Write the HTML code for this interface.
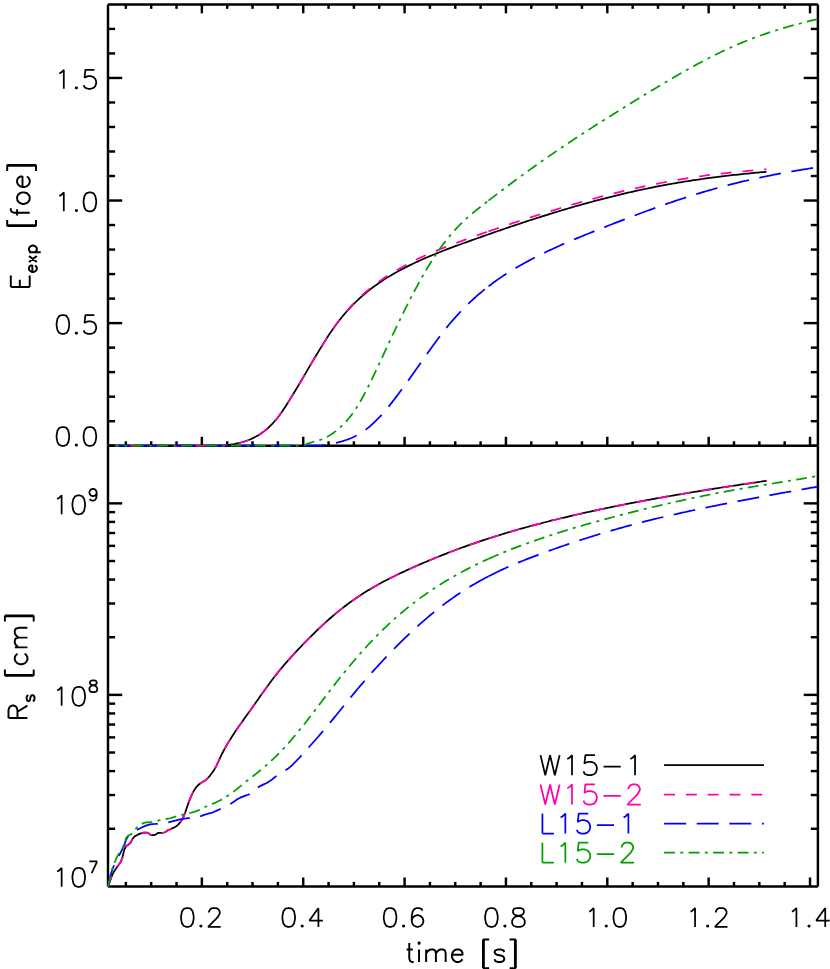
<!DOCTYPE html>
<html><head><meta charset="utf-8"><title>E_exp and R_s vs time</title>
<style>html,body{margin:0;padding:0;background:#fff;font-family:"Liberation Sans",sans-serif}svg{display:block}</style></head>
<body>
<svg width="830" height="969" viewBox="0 0 830 969">
<rect width="830" height="969" fill="#fff"/>
<defs><clipPath id="c1"><rect x="106.80" y="4.40" width="712.30" height="442.50"/></clipPath><clipPath id="c2"><rect x="106.80" y="445.70" width="712.30" height="441.90"/></clipPath></defs>
<line x1="108.00" y1="4.40" x2="817.90" y2="4.40" stroke="#000" stroke-width="2.45" />
<line x1="108.00" y1="445.70" x2="817.90" y2="445.70" stroke="#000" stroke-width="2.45" />
<line x1="108.00" y1="886.40" x2="817.90" y2="886.40" stroke="#000" stroke-width="2.45" />
<line x1="108.00" y1="4.40" x2="108.00" y2="445.70" stroke="#000" stroke-width="2.45" />
<line x1="817.90" y1="4.40" x2="817.90" y2="445.70" stroke="#000" stroke-width="2.45" />
<line x1="125.84" y1="4.40" x2="125.84" y2="8.85" stroke="#000" stroke-width="2.45" />
<line x1="125.84" y1="445.70" x2="125.84" y2="441.25" stroke="#000" stroke-width="2.45" />
<line x1="125.84" y1="886.40" x2="125.84" y2="881.95" stroke="#000" stroke-width="2.45" />
<line x1="151.18" y1="4.40" x2="151.18" y2="8.85" stroke="#000" stroke-width="2.45" />
<line x1="151.18" y1="445.70" x2="151.18" y2="441.25" stroke="#000" stroke-width="2.45" />
<line x1="151.18" y1="886.40" x2="151.18" y2="881.95" stroke="#000" stroke-width="2.45" />
<line x1="176.52" y1="4.40" x2="176.52" y2="8.85" stroke="#000" stroke-width="2.45" />
<line x1="176.52" y1="445.70" x2="176.52" y2="441.25" stroke="#000" stroke-width="2.45" />
<line x1="176.52" y1="886.40" x2="176.52" y2="881.95" stroke="#000" stroke-width="2.45" />
<line x1="201.86" y1="4.40" x2="201.86" y2="13.30" stroke="#000" stroke-width="2.45" />
<line x1="201.86" y1="445.70" x2="201.86" y2="436.80" stroke="#000" stroke-width="2.45" />
<line x1="201.86" y1="886.40" x2="201.86" y2="877.50" stroke="#000" stroke-width="2.45" />
<line x1="227.20" y1="4.40" x2="227.20" y2="8.85" stroke="#000" stroke-width="2.45" />
<line x1="227.20" y1="445.70" x2="227.20" y2="441.25" stroke="#000" stroke-width="2.45" />
<line x1="227.20" y1="886.40" x2="227.20" y2="881.95" stroke="#000" stroke-width="2.45" />
<line x1="252.54" y1="4.40" x2="252.54" y2="8.85" stroke="#000" stroke-width="2.45" />
<line x1="252.54" y1="445.70" x2="252.54" y2="441.25" stroke="#000" stroke-width="2.45" />
<line x1="252.54" y1="886.40" x2="252.54" y2="881.95" stroke="#000" stroke-width="2.45" />
<line x1="277.88" y1="4.40" x2="277.88" y2="8.85" stroke="#000" stroke-width="2.45" />
<line x1="277.88" y1="445.70" x2="277.88" y2="441.25" stroke="#000" stroke-width="2.45" />
<line x1="277.88" y1="886.40" x2="277.88" y2="881.95" stroke="#000" stroke-width="2.45" />
<line x1="303.22" y1="4.40" x2="303.22" y2="13.30" stroke="#000" stroke-width="2.45" />
<line x1="303.22" y1="445.70" x2="303.22" y2="436.80" stroke="#000" stroke-width="2.45" />
<line x1="303.22" y1="886.40" x2="303.22" y2="877.50" stroke="#000" stroke-width="2.45" />
<line x1="328.56" y1="4.40" x2="328.56" y2="8.85" stroke="#000" stroke-width="2.45" />
<line x1="328.56" y1="445.70" x2="328.56" y2="441.25" stroke="#000" stroke-width="2.45" />
<line x1="328.56" y1="886.40" x2="328.56" y2="881.95" stroke="#000" stroke-width="2.45" />
<line x1="353.90" y1="4.40" x2="353.90" y2="8.85" stroke="#000" stroke-width="2.45" />
<line x1="353.90" y1="445.70" x2="353.90" y2="441.25" stroke="#000" stroke-width="2.45" />
<line x1="353.90" y1="886.40" x2="353.90" y2="881.95" stroke="#000" stroke-width="2.45" />
<line x1="379.24" y1="4.40" x2="379.24" y2="8.85" stroke="#000" stroke-width="2.45" />
<line x1="379.24" y1="445.70" x2="379.24" y2="441.25" stroke="#000" stroke-width="2.45" />
<line x1="379.24" y1="886.40" x2="379.24" y2="881.95" stroke="#000" stroke-width="2.45" />
<line x1="404.58" y1="4.40" x2="404.58" y2="13.30" stroke="#000" stroke-width="2.45" />
<line x1="404.58" y1="445.70" x2="404.58" y2="436.80" stroke="#000" stroke-width="2.45" />
<line x1="404.58" y1="886.40" x2="404.58" y2="877.50" stroke="#000" stroke-width="2.45" />
<line x1="429.92" y1="4.40" x2="429.92" y2="8.85" stroke="#000" stroke-width="2.45" />
<line x1="429.92" y1="445.70" x2="429.92" y2="441.25" stroke="#000" stroke-width="2.45" />
<line x1="429.92" y1="886.40" x2="429.92" y2="881.95" stroke="#000" stroke-width="2.45" />
<line x1="455.26" y1="4.40" x2="455.26" y2="8.85" stroke="#000" stroke-width="2.45" />
<line x1="455.26" y1="445.70" x2="455.26" y2="441.25" stroke="#000" stroke-width="2.45" />
<line x1="455.26" y1="886.40" x2="455.26" y2="881.95" stroke="#000" stroke-width="2.45" />
<line x1="480.60" y1="4.40" x2="480.60" y2="8.85" stroke="#000" stroke-width="2.45" />
<line x1="480.60" y1="445.70" x2="480.60" y2="441.25" stroke="#000" stroke-width="2.45" />
<line x1="480.60" y1="886.40" x2="480.60" y2="881.95" stroke="#000" stroke-width="2.45" />
<line x1="505.94" y1="4.40" x2="505.94" y2="13.30" stroke="#000" stroke-width="2.45" />
<line x1="505.94" y1="445.70" x2="505.94" y2="436.80" stroke="#000" stroke-width="2.45" />
<line x1="505.94" y1="886.40" x2="505.94" y2="877.50" stroke="#000" stroke-width="2.45" />
<line x1="531.28" y1="4.40" x2="531.28" y2="8.85" stroke="#000" stroke-width="2.45" />
<line x1="531.28" y1="445.70" x2="531.28" y2="441.25" stroke="#000" stroke-width="2.45" />
<line x1="531.28" y1="886.40" x2="531.28" y2="881.95" stroke="#000" stroke-width="2.45" />
<line x1="556.62" y1="4.40" x2="556.62" y2="8.85" stroke="#000" stroke-width="2.45" />
<line x1="556.62" y1="445.70" x2="556.62" y2="441.25" stroke="#000" stroke-width="2.45" />
<line x1="556.62" y1="886.40" x2="556.62" y2="881.95" stroke="#000" stroke-width="2.45" />
<line x1="581.96" y1="4.40" x2="581.96" y2="8.85" stroke="#000" stroke-width="2.45" />
<line x1="581.96" y1="445.70" x2="581.96" y2="441.25" stroke="#000" stroke-width="2.45" />
<line x1="581.96" y1="886.40" x2="581.96" y2="881.95" stroke="#000" stroke-width="2.45" />
<line x1="607.30" y1="4.40" x2="607.30" y2="13.30" stroke="#000" stroke-width="2.45" />
<line x1="607.30" y1="445.70" x2="607.30" y2="436.80" stroke="#000" stroke-width="2.45" />
<line x1="607.30" y1="886.40" x2="607.30" y2="877.50" stroke="#000" stroke-width="2.45" />
<line x1="632.64" y1="4.40" x2="632.64" y2="8.85" stroke="#000" stroke-width="2.45" />
<line x1="632.64" y1="445.70" x2="632.64" y2="441.25" stroke="#000" stroke-width="2.45" />
<line x1="632.64" y1="886.40" x2="632.64" y2="881.95" stroke="#000" stroke-width="2.45" />
<line x1="657.98" y1="4.40" x2="657.98" y2="8.85" stroke="#000" stroke-width="2.45" />
<line x1="657.98" y1="445.70" x2="657.98" y2="441.25" stroke="#000" stroke-width="2.45" />
<line x1="657.98" y1="886.40" x2="657.98" y2="881.95" stroke="#000" stroke-width="2.45" />
<line x1="683.32" y1="4.40" x2="683.32" y2="8.85" stroke="#000" stroke-width="2.45" />
<line x1="683.32" y1="445.70" x2="683.32" y2="441.25" stroke="#000" stroke-width="2.45" />
<line x1="683.32" y1="886.40" x2="683.32" y2="881.95" stroke="#000" stroke-width="2.45" />
<line x1="708.66" y1="4.40" x2="708.66" y2="13.30" stroke="#000" stroke-width="2.45" />
<line x1="708.66" y1="445.70" x2="708.66" y2="436.80" stroke="#000" stroke-width="2.45" />
<line x1="708.66" y1="886.40" x2="708.66" y2="877.50" stroke="#000" stroke-width="2.45" />
<line x1="734.00" y1="4.40" x2="734.00" y2="8.85" stroke="#000" stroke-width="2.45" />
<line x1="734.00" y1="445.70" x2="734.00" y2="441.25" stroke="#000" stroke-width="2.45" />
<line x1="734.00" y1="886.40" x2="734.00" y2="881.95" stroke="#000" stroke-width="2.45" />
<line x1="759.34" y1="4.40" x2="759.34" y2="8.85" stroke="#000" stroke-width="2.45" />
<line x1="759.34" y1="445.70" x2="759.34" y2="441.25" stroke="#000" stroke-width="2.45" />
<line x1="759.34" y1="886.40" x2="759.34" y2="881.95" stroke="#000" stroke-width="2.45" />
<line x1="784.68" y1="4.40" x2="784.68" y2="8.85" stroke="#000" stroke-width="2.45" />
<line x1="784.68" y1="445.70" x2="784.68" y2="441.25" stroke="#000" stroke-width="2.45" />
<line x1="784.68" y1="886.40" x2="784.68" y2="881.95" stroke="#000" stroke-width="2.45" />
<line x1="810.02" y1="4.40" x2="810.02" y2="13.30" stroke="#000" stroke-width="2.45" />
<line x1="810.02" y1="445.70" x2="810.02" y2="436.80" stroke="#000" stroke-width="2.45" />
<line x1="810.02" y1="886.40" x2="810.02" y2="877.50" stroke="#000" stroke-width="2.45" />
<line x1="108.00" y1="421.18" x2="115.10" y2="421.18" stroke="#000" stroke-width="2.45" />
<line x1="817.90" y1="421.18" x2="810.80" y2="421.18" stroke="#000" stroke-width="2.45" />
<line x1="108.00" y1="396.67" x2="115.10" y2="396.67" stroke="#000" stroke-width="2.45" />
<line x1="817.90" y1="396.67" x2="810.80" y2="396.67" stroke="#000" stroke-width="2.45" />
<line x1="108.00" y1="372.15" x2="115.10" y2="372.15" stroke="#000" stroke-width="2.45" />
<line x1="817.90" y1="372.15" x2="810.80" y2="372.15" stroke="#000" stroke-width="2.45" />
<line x1="108.00" y1="347.63" x2="115.10" y2="347.63" stroke="#000" stroke-width="2.45" />
<line x1="817.90" y1="347.63" x2="810.80" y2="347.63" stroke="#000" stroke-width="2.45" />
<line x1="108.00" y1="323.12" x2="122.20" y2="323.12" stroke="#000" stroke-width="2.45" />
<line x1="817.90" y1="323.12" x2="803.70" y2="323.12" stroke="#000" stroke-width="2.45" />
<line x1="108.00" y1="298.60" x2="115.10" y2="298.60" stroke="#000" stroke-width="2.45" />
<line x1="817.90" y1="298.60" x2="810.80" y2="298.60" stroke="#000" stroke-width="2.45" />
<line x1="108.00" y1="274.08" x2="115.10" y2="274.08" stroke="#000" stroke-width="2.45" />
<line x1="817.90" y1="274.08" x2="810.80" y2="274.08" stroke="#000" stroke-width="2.45" />
<line x1="108.00" y1="249.57" x2="115.10" y2="249.57" stroke="#000" stroke-width="2.45" />
<line x1="817.90" y1="249.57" x2="810.80" y2="249.57" stroke="#000" stroke-width="2.45" />
<line x1="108.00" y1="225.05" x2="115.10" y2="225.05" stroke="#000" stroke-width="2.45" />
<line x1="817.90" y1="225.05" x2="810.80" y2="225.05" stroke="#000" stroke-width="2.45" />
<line x1="108.00" y1="200.53" x2="122.20" y2="200.53" stroke="#000" stroke-width="2.45" />
<line x1="817.90" y1="200.53" x2="803.70" y2="200.53" stroke="#000" stroke-width="2.45" />
<line x1="108.00" y1="176.02" x2="115.10" y2="176.02" stroke="#000" stroke-width="2.45" />
<line x1="817.90" y1="176.02" x2="810.80" y2="176.02" stroke="#000" stroke-width="2.45" />
<line x1="108.00" y1="151.50" x2="115.10" y2="151.50" stroke="#000" stroke-width="2.45" />
<line x1="817.90" y1="151.50" x2="810.80" y2="151.50" stroke="#000" stroke-width="2.45" />
<line x1="108.00" y1="126.98" x2="115.10" y2="126.98" stroke="#000" stroke-width="2.45" />
<line x1="817.90" y1="126.98" x2="810.80" y2="126.98" stroke="#000" stroke-width="2.45" />
<line x1="108.00" y1="102.47" x2="115.10" y2="102.47" stroke="#000" stroke-width="2.45" />
<line x1="817.90" y1="102.47" x2="810.80" y2="102.47" stroke="#000" stroke-width="2.45" />
<line x1="108.00" y1="77.95" x2="122.20" y2="77.95" stroke="#000" stroke-width="2.45" />
<line x1="817.90" y1="77.95" x2="803.70" y2="77.95" stroke="#000" stroke-width="2.45" />
<line x1="108.00" y1="53.43" x2="115.10" y2="53.43" stroke="#000" stroke-width="2.45" />
<line x1="817.90" y1="53.43" x2="810.80" y2="53.43" stroke="#000" stroke-width="2.45" />
<line x1="108.00" y1="28.92" x2="115.10" y2="28.92" stroke="#000" stroke-width="2.45" />
<line x1="817.90" y1="28.92" x2="810.80" y2="28.92" stroke="#000" stroke-width="2.45" />
<line x1="108.00" y1="828.75" x2="115.10" y2="828.75" stroke="#000" stroke-width="2.45" />
<line x1="817.90" y1="828.75" x2="810.80" y2="828.75" stroke="#000" stroke-width="2.45" />
<line x1="108.00" y1="795.02" x2="115.10" y2="795.02" stroke="#000" stroke-width="2.45" />
<line x1="817.90" y1="795.02" x2="810.80" y2="795.02" stroke="#000" stroke-width="2.45" />
<line x1="108.00" y1="771.09" x2="115.10" y2="771.09" stroke="#000" stroke-width="2.45" />
<line x1="817.90" y1="771.09" x2="810.80" y2="771.09" stroke="#000" stroke-width="2.45" />
<line x1="108.00" y1="752.53" x2="115.10" y2="752.53" stroke="#000" stroke-width="2.45" />
<line x1="817.90" y1="752.53" x2="810.80" y2="752.53" stroke="#000" stroke-width="2.45" />
<line x1="108.00" y1="737.37" x2="115.10" y2="737.37" stroke="#000" stroke-width="2.45" />
<line x1="817.90" y1="737.37" x2="810.80" y2="737.37" stroke="#000" stroke-width="2.45" />
<line x1="108.00" y1="724.54" x2="115.10" y2="724.54" stroke="#000" stroke-width="2.45" />
<line x1="817.90" y1="724.54" x2="810.80" y2="724.54" stroke="#000" stroke-width="2.45" />
<line x1="108.00" y1="713.44" x2="115.10" y2="713.44" stroke="#000" stroke-width="2.45" />
<line x1="817.90" y1="713.44" x2="810.80" y2="713.44" stroke="#000" stroke-width="2.45" />
<line x1="108.00" y1="703.64" x2="115.10" y2="703.64" stroke="#000" stroke-width="2.45" />
<line x1="817.90" y1="703.64" x2="810.80" y2="703.64" stroke="#000" stroke-width="2.45" />
<line x1="108.00" y1="694.88" x2="122.20" y2="694.88" stroke="#000" stroke-width="2.45" />
<line x1="817.90" y1="694.88" x2="803.70" y2="694.88" stroke="#000" stroke-width="2.45" />
<line x1="108.00" y1="637.22" x2="115.10" y2="637.22" stroke="#000" stroke-width="2.45" />
<line x1="817.90" y1="637.22" x2="810.80" y2="637.22" stroke="#000" stroke-width="2.45" />
<line x1="108.00" y1="603.50" x2="115.10" y2="603.50" stroke="#000" stroke-width="2.45" />
<line x1="817.90" y1="603.50" x2="810.80" y2="603.50" stroke="#000" stroke-width="2.45" />
<line x1="108.00" y1="579.57" x2="115.10" y2="579.57" stroke="#000" stroke-width="2.45" />
<line x1="817.90" y1="579.57" x2="810.80" y2="579.57" stroke="#000" stroke-width="2.45" />
<line x1="108.00" y1="561.01" x2="115.10" y2="561.01" stroke="#000" stroke-width="2.45" />
<line x1="817.90" y1="561.01" x2="810.80" y2="561.01" stroke="#000" stroke-width="2.45" />
<line x1="108.00" y1="545.84" x2="115.10" y2="545.84" stroke="#000" stroke-width="2.45" />
<line x1="817.90" y1="545.84" x2="810.80" y2="545.84" stroke="#000" stroke-width="2.45" />
<line x1="108.00" y1="533.02" x2="115.10" y2="533.02" stroke="#000" stroke-width="2.45" />
<line x1="817.90" y1="533.02" x2="810.80" y2="533.02" stroke="#000" stroke-width="2.45" />
<line x1="108.00" y1="521.91" x2="115.10" y2="521.91" stroke="#000" stroke-width="2.45" />
<line x1="817.90" y1="521.91" x2="810.80" y2="521.91" stroke="#000" stroke-width="2.45" />
<line x1="108.00" y1="512.12" x2="115.10" y2="512.12" stroke="#000" stroke-width="2.45" />
<line x1="817.90" y1="512.12" x2="810.80" y2="512.12" stroke="#000" stroke-width="2.45" />
<line x1="108.00" y1="503.35" x2="122.20" y2="503.35" stroke="#000" stroke-width="2.45" />
<line x1="817.90" y1="503.35" x2="803.70" y2="503.35" stroke="#000" stroke-width="2.45" />
<path clip-path="url(#c1)" d="M108.00 445.70 L110.00 445.70 L112.00 445.70 L114.00 445.70 L116.00 445.70 L118.00 445.70 L120.00 445.70 L122.00 445.70 L124.00 445.70 L126.00 445.70 L128.00 445.70 L130.00 445.70 L132.00 445.70 L134.00 445.70 L136.00 445.70 L138.00 445.70 L140.00 445.70 L142.00 445.70 L144.00 445.70 L146.00 445.70 L148.00 445.70 L150.00 445.70 L152.00 445.70 L154.00 445.70 L156.00 445.70 L158.00 445.70 L160.00 445.70 L162.00 445.70 L164.00 445.70 L166.00 445.70 L168.00 445.70 L170.00 445.70 L172.00 445.70 L174.00 445.70 L176.00 445.70 L178.00 445.70 L180.00 445.70 L182.00 445.70 L184.00 445.70 L186.00 445.70 L188.00 445.70 L190.00 445.70 L192.00 445.70 L194.00 445.70 L196.00 445.70 L198.00 445.70 L200.00 445.70 L202.00 445.70 L204.00 445.70 L206.00 445.70 L208.00 445.70 L210.00 445.70 L212.00 445.70 L214.00 445.70 L216.00 445.70 L218.00 445.67 L220.00 445.60 L222.00 445.50 L224.00 445.29 L226.00 445.07 L228.00 444.84 L230.00 444.58 L232.00 444.30 L234.00 443.99 L236.00 443.63 L238.00 443.23 L240.00 442.77 L242.00 442.25 L244.00 441.66 L246.00 441.00 L248.00 440.27 L250.00 439.46 L252.00 438.58 L254.00 437.60 L256.00 436.55 L258.00 435.40 L260.00 434.15 L262.00 432.81 L264.00 431.35 L266.00 429.76 L268.00 428.05 L270.00 426.19 L272.00 424.19 L274.00 422.02 L276.00 419.68 L278.00 417.18 L280.00 414.50 L282.00 411.69 L284.00 408.75 L286.00 405.70 L288.00 402.56 L290.00 399.35 L292.00 396.08 L294.00 392.77 L296.00 389.43 L298.00 386.08 L300.00 382.72 L302.00 379.34 L304.00 375.96 L306.00 372.57 L308.00 369.18 L310.00 365.80 L312.00 362.42 L314.00 359.04 L316.00 355.69 L318.00 352.36 L320.00 349.06 L322.00 345.81 L324.00 342.60 L326.00 339.44 L328.00 336.35 L330.00 333.32 L332.00 330.38 L334.00 327.51 L336.00 324.75 L338.00 322.07 L340.00 319.49 L342.00 317.00 L344.00 314.59 L346.00 312.26 L348.00 310.01 L350.00 307.84 L352.00 305.74 L354.00 303.71 L356.00 301.75 L358.00 299.85 L360.00 298.01 L362.00 296.22 L364.00 294.49 L366.00 292.81 L368.00 291.17 L370.00 289.59 L372.00 288.04 L374.00 286.54 L376.00 285.09 L378.00 283.67 L380.00 282.29 L382.00 280.95 L384.00 279.64 L386.00 278.36 L388.00 277.12 L390.00 275.91 L392.00 274.73 L394.00 273.58 L396.00 272.45 L398.00 271.34 L400.00 270.26 L402.00 269.20 L404.00 268.16 L406.00 267.14 L408.00 266.14 L410.00 265.15 L412.00 264.18 L414.00 263.23 L416.00 262.29 L418.00 261.36 L420.00 260.45 L422.00 259.55 L424.00 258.67 L426.00 257.80 L428.00 256.94 L430.00 256.10 L432.00 255.26 L434.00 254.44 L436.00 253.62 L438.00 252.82 L440.00 252.02 L442.00 251.24 L444.00 250.46 L446.00 249.69 L448.00 248.92 L450.00 248.17 L452.00 247.42 L454.00 246.68 L456.00 245.94 L458.00 245.20 L460.00 244.47 L462.00 243.75 L464.00 243.03 L466.00 242.31 L468.00 241.59 L470.00 240.88 L472.00 240.16 L474.00 239.45 L476.00 238.74 L478.00 238.03 L480.00 237.32 L482.00 236.62 L484.00 235.91 L486.00 235.21 L488.00 234.51 L490.00 233.81 L492.00 233.11 L494.00 232.42 L496.00 231.72 L498.00 231.03 L500.00 230.34 L502.00 229.66 L504.00 228.97 L506.00 228.29 L508.00 227.61 L510.00 226.93 L512.00 226.25 L514.00 225.58 L516.00 224.91 L518.00 224.24 L520.00 223.58 L522.00 222.91 L524.00 222.25 L526.00 221.59 L528.00 220.94 L530.00 220.29 L532.00 219.64 L534.00 218.99 L536.00 218.35 L538.00 217.71 L540.00 217.07 L542.00 216.44 L544.00 215.81 L546.00 215.18 L548.00 214.55 L550.00 213.93 L552.00 213.31 L554.00 212.70 L556.00 212.09 L558.00 211.48 L560.00 210.88 L562.00 210.28 L564.00 209.68 L566.00 209.09 L568.00 208.50 L570.00 207.91 L572.00 207.33 L574.00 206.75 L576.00 206.18 L578.00 205.61 L580.00 205.04 L582.00 204.48 L584.00 203.92 L586.00 203.37 L588.00 202.82 L590.00 202.27 L592.00 201.73 L594.00 201.19 L596.00 200.66 L598.00 200.13 L600.00 199.60 L602.00 199.08 L604.00 198.56 L606.00 198.05 L608.00 197.54 L610.00 197.04 L612.00 196.54 L614.00 196.04 L616.00 195.55 L618.00 195.06 L620.00 194.58 L622.00 194.11 L624.00 193.63 L626.00 193.17 L628.00 192.70 L630.00 192.24 L632.00 191.79 L634.00 191.34 L636.00 190.90 L638.00 190.46 L640.00 190.02 L642.00 189.59 L644.00 189.17 L646.00 188.75 L648.00 188.33 L650.00 187.92 L652.00 187.52 L654.00 187.12 L656.00 186.72 L658.00 186.33 L660.00 185.95 L662.00 185.57 L664.00 185.20 L666.00 184.83 L668.00 184.46 L670.00 184.10 L672.00 183.75 L674.00 183.40 L676.00 183.06 L678.00 182.72 L680.00 182.38 L682.00 182.05 L684.00 181.73 L686.00 181.41 L688.00 181.09 L690.00 180.78 L692.00 180.47 L694.00 180.17 L696.00 179.87 L698.00 179.58 L700.00 179.29 L702.00 179.00 L704.00 178.72 L706.00 178.44 L708.00 178.17 L710.00 177.90 L712.00 177.64 L714.00 177.38 L716.00 177.12 L718.00 176.87 L720.00 176.62 L722.00 176.37 L724.00 176.13 L726.00 175.89 L728.00 175.66 L730.00 175.43 L732.00 175.20 L734.00 174.98 L736.00 174.76 L738.00 174.54 L740.00 174.33 L742.00 174.12 L744.00 173.91 L746.00 173.71 L748.00 173.51 L750.00 173.31 L752.00 173.12 L754.00 172.92 L756.00 172.74 L758.00 172.55 L760.00 172.37 L762.00 172.19 L764.00 172.01 L766.00 171.84 L766.50 171.80" fill="none" stroke="#000000" stroke-width="1.75" stroke-linejoin="round" />
<path clip-path="url(#c1)" d="M108.00 445.70 L110.00 445.70 L112.00 445.70 L114.00 445.70 L116.00 445.70 L118.00 445.70 L120.00 445.70 L122.00 445.70 L124.00 445.70 L126.00 445.70 L128.00 445.70 L130.00 445.70 L132.00 445.70 L134.00 445.70 L136.00 445.70 L138.00 445.70 L140.00 445.70 L142.00 445.70 L144.00 445.70 L146.00 445.70 L148.00 445.70 L150.00 445.70 L152.00 445.70 L154.00 445.70 L156.00 445.70 L158.00 445.70 L160.00 445.70 L162.00 445.70 L164.00 445.70 L166.00 445.70 L168.00 445.70 L170.00 445.70 L172.00 445.70 L174.00 445.70 L176.00 445.70 L178.00 445.70 L180.00 445.70 L182.00 445.70 L184.00 445.70 L186.00 445.70 L188.00 445.70 L190.00 445.70 L192.00 445.70 L194.00 445.70 L196.00 445.70 L198.00 445.70 L200.00 445.70 L202.00 445.70 L204.00 445.70 L206.00 445.70 L208.00 445.70 L210.00 445.70 L212.00 445.70 L214.00 445.70 L216.00 445.70 L218.00 445.67 L220.00 445.60 L222.00 445.50 L224.00 445.29 L226.00 445.07 L228.00 444.84 L230.00 444.58 L232.00 444.30 L234.00 443.99 L236.00 443.63 L238.00 443.23 L240.00 442.77 L242.00 442.25 L244.00 441.66 L246.00 441.00 L248.00 440.27 L250.00 439.46 L252.00 438.58 L254.00 437.60 L256.00 436.55 L258.00 435.40 L260.00 434.15 L262.00 432.81 L264.00 431.35 L266.00 429.76 L268.00 428.05 L270.00 426.19 L272.00 424.19 L274.00 422.02 L276.00 419.68 L278.00 417.18 L280.00 414.50 L282.00 411.69 L284.00 408.75 L286.00 405.70 L288.00 402.56 L290.00 399.35 L292.00 396.08 L294.00 392.77 L296.00 389.43 L298.00 386.08 L300.00 382.72 L302.00 379.34 L304.00 375.96 L306.00 372.57 L308.00 369.18 L310.00 365.80 L312.00 362.42 L314.00 359.04 L316.00 355.69 L318.00 352.36 L320.00 349.06 L322.00 345.81 L324.00 342.60 L326.00 339.44 L328.00 336.35 L330.00 333.32 L332.00 330.32 L334.00 327.40 L336.00 324.57 L338.00 321.84 L340.00 319.20 L342.00 316.65 L344.00 314.19 L346.00 311.80 L348.00 309.50 L350.00 307.27 L352.00 305.11 L354.00 303.03 L356.00 301.01 L358.00 299.05 L360.00 297.15 L362.00 295.31 L364.00 293.52 L366.00 291.78 L368.00 290.09 L370.00 288.44 L372.00 286.84 L374.00 285.29 L376.00 283.77 L378.00 282.30 L380.00 280.86 L382.00 279.46 L384.00 278.09 L386.00 276.76 L388.00 275.47 L390.00 274.20 L392.00 272.96 L394.00 271.75 L396.00 270.56 L398.00 269.40 L400.00 268.26 L402.00 267.14 L404.00 266.04 L406.00 264.96 L408.00 263.90 L410.00 262.85 L412.00 261.82 L414.00 260.81 L416.00 259.81 L418.00 258.82 L420.00 257.85 L422.00 256.94 L424.00 256.04 L426.00 255.16 L428.00 254.28 L430.00 253.42 L432.00 252.57 L434.00 251.73 L436.00 250.90 L438.00 250.08 L440.00 249.27 L442.00 248.47 L444.00 247.68 L446.00 246.89 L448.00 246.11 L450.00 245.34 L452.00 244.58 L454.00 243.82 L456.00 243.07 L458.00 242.32 L460.00 241.57 L462.00 240.84 L464.00 240.11 L466.00 239.38 L468.00 238.65 L470.00 237.93 L472.00 237.20 L474.00 236.48 L476.00 235.76 L478.00 235.04 L480.00 234.32 L482.00 233.63 L484.00 232.93 L486.00 232.24 L488.00 231.55 L488.50 231.38" fill="none" stroke="#ff00aa" stroke-width="1.75" stroke-linejoin="round" stroke-dasharray="10.9 10.9" stroke-dashoffset="0.00"/>
<path clip-path="url(#c1)" d="M488.50 231.38 L490.00 230.86 L492.00 230.17 L494.00 229.49 L496.00 228.80 L498.00 228.12 L500.00 227.44 L502.00 226.77 L504.00 226.09 L506.00 225.42 L508.00 224.75 L510.00 224.08 L512.00 223.41 L514.00 222.75 L516.00 222.09 L518.00 221.43 L520.00 220.78 L522.00 220.12 L524.00 219.47 L526.00 218.82 L528.00 218.18 L530.00 217.54 L532.00 216.90 L534.00 216.26 L536.00 215.63 L538.00 215.00 L540.00 214.37 L542.00 213.75 L544.00 213.13 L546.00 212.51 L548.00 211.89 L550.00 211.28 L552.00 210.67 L554.00 210.07 L556.00 209.47 L558.00 208.87 L560.00 208.28 L562.00 207.67 L564.00 207.08 L566.00 206.48 L568.00 205.89 L570.00 205.30 L572.00 204.72 L574.00 204.14 L576.00 203.56 L578.00 202.99 L580.00 202.42 L582.00 201.85 L584.00 201.29 L586.00 200.73 L588.00 200.18 L590.00 199.63 L592.00 199.09 L594.00 198.55 L596.00 198.01 L598.00 197.48 L600.00 196.95 L602.00 196.43 L604.00 195.91 L606.00 195.39 L608.00 194.88 L610.00 194.37 L612.00 193.87 L614.00 193.37 L616.00 192.88 L618.00 192.39 L620.00 191.91 L622.00 191.43 L624.00 190.95 L626.00 190.48 L628.00 190.02 L630.00 189.56 L632.00 189.10 L634.00 188.65 L636.00 188.20 L638.00 187.76 L640.00 187.32 L642.00 186.88 L644.00 186.45 L646.00 186.02 L648.00 185.59 L650.00 185.17 L652.00 184.76 L654.00 184.35 L656.00 183.94 L658.00 183.54 L660.00 183.15 L662.00 182.76 L664.00 182.38 L666.00 182.00 L668.00 181.62 L670.00 181.25 L672.00 180.89 L674.00 180.53 L676.00 180.18 L678.00 179.83 L680.00 179.48 L682.00 179.14 L684.00 178.81 L686.00 178.48 L688.00 178.15 L690.00 177.83 L692.00 177.51 L694.00 177.20 L696.00 176.89 L698.00 176.59 L700.00 176.29 L702.00 176.02 L704.00 175.75 L706.00 175.49 L708.00 175.23 L710.00 174.98 L712.00 174.73 L714.00 174.49 L716.00 174.25 L718.00 174.01 L720.00 173.78 L722.00 173.55 L724.00 173.32 L726.00 173.10 L728.00 172.88 L730.00 172.66 L732.00 172.45 L734.00 172.24 L736.00 172.04 L738.00 171.83 L740.00 171.64 L742.00 171.44 L744.00 171.25 L746.00 171.06 L748.00 170.87 L750.00 170.69 L752.00 170.51 L754.00 170.33 L756.00 170.16 L758.00 169.99 L760.00 169.82 L762.00 169.66 L764.00 169.49 L766.00 169.34 L766.50 169.30" fill="none" stroke="#ff00aa" stroke-width="1.75" stroke-linejoin="round" stroke-dasharray="10.9 10.9" stroke-dashoffset="0.00"/>
<path clip-path="url(#c1)" d="M108.00 445.70 L110.00 445.70 L112.00 445.70 L114.00 445.70 L116.00 445.70 L118.00 445.70 L120.00 445.70 L122.00 445.70 L124.00 445.70 L126.00 445.70 L128.00 445.70 L130.00 445.70 L132.00 445.70 L134.00 445.70 L136.00 445.70 L138.00 445.70 L140.00 445.70 L142.00 445.70 L144.00 445.70 L146.00 445.70 L148.00 445.70 L150.00 445.70 L152.00 445.70 L154.00 445.70 L156.00 445.70 L158.00 445.70 L160.00 445.70 L162.00 445.70 L164.00 445.70 L166.00 445.70 L168.00 445.70 L170.00 445.70 L172.00 445.70 L174.00 445.70 L176.00 445.70 L178.00 445.70 L180.00 445.70 L182.00 445.70 L184.00 445.70 L186.00 445.70 L188.00 445.70 L190.00 445.70 L192.00 445.70 L194.00 445.70 L196.00 445.70 L198.00 445.70 L200.00 445.70 L202.00 445.70 L204.00 445.70 L206.00 445.70 L208.00 445.70 L210.00 445.70 L212.00 445.70 L214.00 445.70 L216.00 445.70 L218.00 445.70 L220.00 445.70 L222.00 445.70 L224.00 445.70 L226.00 445.70 L228.00 445.70 L230.00 445.70 L232.00 445.70 L234.00 445.70 L236.00 445.70 L238.00 445.70 L240.00 445.70 L242.00 445.70 L244.00 445.70 L246.00 445.70 L248.00 445.70 L250.00 445.70 L252.00 445.70 L254.00 445.70 L256.00 445.70 L258.00 445.70 L260.00 445.70 L262.00 445.70 L264.00 445.70 L266.00 445.70 L268.00 445.70 L270.00 445.70 L272.00 445.70 L274.00 445.70 L276.00 445.70 L278.00 445.70 L280.00 445.70 L282.00 445.70 L284.00 445.70 L286.00 445.70 L288.00 445.70 L290.00 445.70 L292.00 445.70 L294.00 445.70 L296.00 445.70 L298.00 445.70 L300.00 445.70 L302.00 445.70 L304.00 445.70 L306.00 445.70 L308.00 445.70 L310.00 445.70 L312.00 445.70 L314.00 445.70 L316.00 445.70 L318.00 445.65 L320.00 445.53 L322.00 445.35 L324.00 445.03 L326.00 444.71 L328.00 444.37 L330.00 444.02 L332.00 443.64 L334.00 443.24 L336.00 442.81 L338.00 442.35 L340.00 441.84 L342.00 441.29 L344.00 440.69 L346.00 440.04 L348.00 439.32 L350.00 438.54 L352.00 437.69 L354.00 436.77 L356.00 435.76 L358.00 434.67 L360.00 433.50 L362.00 432.23 L364.00 430.86 L366.00 429.40 L368.00 427.85 L370.00 426.21 L372.00 424.47 L374.00 422.64 L376.00 420.72 L378.00 418.71 L380.00 416.61 L382.00 414.41 L384.00 412.14 L386.00 409.79 L388.00 407.36 L390.00 404.88 L392.00 402.34 L394.00 399.75 L396.00 397.12 L398.00 394.45 L400.00 391.76 L402.00 389.05 L404.00 386.32 L406.00 383.57 L408.00 380.80 L410.00 378.02 L412.00 375.22 L414.00 372.42 L416.00 369.60 L418.00 366.77 L420.00 363.94 L422.00 361.09 L424.00 358.25 L426.00 355.41 L428.00 352.58 L430.00 349.77 L432.00 346.97 L434.00 344.20 L436.00 341.45 L438.00 338.74 L440.00 336.08 L442.00 333.45 L444.00 330.87 L446.00 328.35 L448.00 325.89 L450.00 323.48 L452.00 321.13 L454.00 318.83 L456.00 316.58 L458.00 314.38 L460.00 312.23 L462.00 310.13 L464.00 308.08 L466.00 306.08 L468.00 304.12 L470.00 302.20 L472.00 300.33 L474.00 298.50 L476.00 296.71 L478.00 294.96 L480.00 293.24 L482.00 291.57 L484.00 289.93 L486.00 288.32 L488.00 286.75 L488.50 286.37" fill="none" stroke="#0000ff" stroke-width="1.75" stroke-linejoin="round" stroke-dasharray="22 10.6" stroke-dashoffset="0.00"/>
<path clip-path="url(#c1)" d="M488.50 286.37 L490.00 285.22 L492.00 283.71 L494.00 282.24 L496.00 280.80 L498.00 279.39 L500.00 278.01 L502.00 276.65 L504.00 275.32 L506.00 274.02 L508.00 272.74 L510.00 271.49 L512.00 270.26 L514.00 269.05 L516.00 267.86 L518.00 266.70 L520.00 265.55 L522.00 264.42 L524.00 263.31 L526.00 262.21 L528.00 261.13 L530.00 260.07 L532.00 259.02 L534.00 257.98 L536.00 256.96 L538.00 255.95 L540.00 254.95 L542.00 253.96 L544.00 252.99 L546.00 252.02 L548.00 251.07 L550.00 250.12 L552.00 249.19 L554.00 248.27 L556.00 247.36 L558.00 246.45 L560.00 245.56 L562.00 244.67 L564.00 243.79 L566.00 242.92 L568.00 242.06 L570.00 241.20 L572.00 240.35 L574.00 239.51 L576.00 238.67 L578.00 237.84 L580.00 237.01 L582.00 236.19 L584.00 235.37 L586.00 234.56 L588.00 233.75 L590.00 232.94 L592.00 232.14 L594.00 231.34 L596.00 230.54 L598.00 229.75 L600.00 228.95 L602.00 228.16 L604.00 227.37 L606.00 226.58 L608.00 225.79 L610.00 225.01 L612.00 224.22 L614.00 223.44 L616.00 222.66 L618.00 221.89 L620.00 221.11 L622.00 220.34 L624.00 219.57 L626.00 218.80 L628.00 218.03 L630.00 217.27 L632.00 216.51 L634.00 215.75 L636.00 215.00 L638.00 214.25 L640.00 213.50 L642.00 212.75 L644.00 212.01 L646.00 211.27 L648.00 210.54 L650.00 209.81 L652.00 209.08 L654.00 208.36 L656.00 207.64 L658.00 206.93 L660.00 206.22 L662.00 205.51 L664.00 204.81 L666.00 204.11 L668.00 203.42 L670.00 202.73 L672.00 202.05 L674.00 201.37 L676.00 200.70 L678.00 200.03 L680.00 199.37 L682.00 198.71 L684.00 198.05 L686.00 197.41 L688.00 196.77 L690.00 196.13 L692.00 195.50 L694.00 194.87 L696.00 194.26 L698.00 193.64 L700.00 193.04 L702.00 192.44 L704.00 191.84 L706.00 191.26 L708.00 190.67 L710.00 190.10 L712.00 189.53 L714.00 188.97 L716.00 188.41 L718.00 187.86 L720.00 187.31 L722.00 186.77 L724.00 186.24 L726.00 185.71 L728.00 185.19 L730.00 184.67 L732.00 184.16 L734.00 183.66 L736.00 183.16 L738.00 182.66 L740.00 182.18 L742.00 181.70 L744.00 181.22 L746.00 180.75 L748.00 180.28 L750.00 179.82 L752.00 179.37 L754.00 178.92 L756.00 178.48 L758.00 178.04 L760.00 177.60 L762.00 177.18 L764.00 176.75 L766.00 176.34 L768.00 175.93 L770.00 175.52 L772.00 175.12 L774.00 174.72 L776.00 174.33 L778.00 173.94 L780.00 173.56 L782.00 173.19 L784.00 172.81 L786.00 172.45 L788.00 172.09 L790.00 171.73 L792.00 171.38 L794.00 171.03 L796.00 170.69 L798.00 170.35 L800.00 170.02 L802.00 169.69 L804.00 169.37 L806.00 169.05 L808.00 168.74 L810.00 168.43 L812.00 168.12 L814.00 167.82 L816.00 167.53 L818.00 167.23" fill="none" stroke="#0000ff" stroke-width="1.75" stroke-linejoin="round" stroke-dasharray="22 10.6" stroke-dashoffset="0.00"/>
<path clip-path="url(#c1)" d="M108.00 445.70 L110.00 445.70 L112.00 445.70 L114.00 445.70 L116.00 445.70 L118.00 445.70 L120.00 445.70 L122.00 445.70 L124.00 445.70 L126.00 445.70 L128.00 445.70 L130.00 445.70 L132.00 445.70 L134.00 445.70 L136.00 445.70 L138.00 445.70 L140.00 445.70 L142.00 445.70 L144.00 445.70 L146.00 445.70 L148.00 445.70 L150.00 445.70 L152.00 445.70 L154.00 445.70 L156.00 445.70 L158.00 445.70 L160.00 445.70 L162.00 445.70 L164.00 445.70 L166.00 445.70 L168.00 445.70 L170.00 445.70 L172.00 445.70 L174.00 445.70 L176.00 445.70 L178.00 445.70 L180.00 445.70 L182.00 445.70 L184.00 445.70 L186.00 445.70 L188.00 445.70 L190.00 445.70 L192.00 445.70 L194.00 445.70 L196.00 445.70 L198.00 445.70 L200.00 445.70 L202.00 445.70 L204.00 445.70 L206.00 445.70 L208.00 445.70 L210.00 445.70 L212.00 445.70 L214.00 445.70 L216.00 445.70 L218.00 445.70 L220.00 445.70 L222.00 445.70 L224.00 445.70 L226.00 445.70 L228.00 445.70 L230.00 445.70 L232.00 445.70 L234.00 445.70 L236.00 445.70 L238.00 445.70 L240.00 445.70 L242.00 445.70 L244.00 445.70 L246.00 445.70 L248.00 445.70 L250.00 445.70 L252.00 445.70 L254.00 445.70 L256.00 445.70 L258.00 445.70 L260.00 445.70 L262.00 445.70 L264.00 445.70 L266.00 445.70 L268.00 445.70 L270.00 445.70 L272.00 445.70 L274.00 445.70 L276.00 445.70 L278.00 445.70 L280.00 445.70 L282.00 445.70 L284.00 445.70 L286.00 445.70 L288.00 445.70 L290.00 445.70 L292.00 445.70 L294.00 445.70 L296.00 445.70 L298.00 445.70 L300.00 445.65 L302.00 445.49 L304.00 445.23 L306.00 444.42 L308.00 443.52 L310.00 442.82 L312.00 442.22 L314.00 441.67 L316.00 441.15 L318.00 440.59 L320.00 439.96 L322.00 439.23 L324.00 438.38 L326.00 437.41 L328.00 436.33 L330.00 435.14 L332.00 433.83 L334.00 432.42 L336.00 430.90 L338.00 429.27 L340.00 427.53 L342.00 425.68 L344.00 423.70 L346.00 421.58 L348.00 419.31 L350.00 416.88 L352.00 414.29 L354.00 411.51 L356.00 408.54 L358.00 405.37 L360.00 402.01 L362.00 398.49 L364.00 394.82 L366.00 391.01 L368.00 387.09 L370.00 383.07 L372.00 378.97 L374.00 374.81 L376.00 370.60 L378.00 366.35 L380.00 362.08 L382.00 357.78 L384.00 353.48 L386.00 349.16 L388.00 344.86 L390.00 340.56 L392.00 336.29 L394.00 332.05 L396.00 327.83 L398.00 323.66 L400.00 319.52 L402.00 315.42 L404.00 311.36 L406.00 307.35 L408.00 303.39 L410.00 299.47 L412.00 295.61 L414.00 291.81 L416.00 288.06 L418.00 284.37 L420.00 280.75 L422.00 277.19 L424.00 273.70 L426.00 270.29 L428.00 266.94 L430.00 263.67 L432.00 260.49 L434.00 257.38 L436.00 254.35 L438.00 251.41 L440.00 248.56 L442.00 245.80 L444.00 243.13 L446.00 240.55 L448.00 238.05 L450.00 235.63 L452.00 233.29 L454.00 231.03 L456.00 228.85 L458.00 226.73 L460.00 224.69 L462.00 222.71 L464.00 220.79 L466.00 218.94 L468.00 217.14 L470.00 215.39 L472.00 213.68 L474.00 212.01 L476.00 210.38 L478.00 208.77 L480.00 207.19 L482.00 205.62 L484.00 204.06 L486.00 202.51 L488.00 200.97 L488.50 200.58" fill="none" stroke="#00a000" stroke-width="1.75" stroke-linejoin="round" stroke-dasharray="10.9 5.3 3 5.3" stroke-dashoffset="0.00"/>
<path clip-path="url(#c1)" d="M488.50 200.58 L490.00 199.43 L492.00 197.89 L494.00 196.36 L496.00 194.83 L498.00 193.31 L500.00 191.79 L502.00 190.28 L504.00 188.77 L506.00 187.26 L508.00 185.76 L510.00 184.27 L512.00 182.78 L514.00 181.29 L516.00 179.81 L518.00 178.34 L520.00 176.87 L522.00 175.40 L524.00 173.95 L526.00 172.49 L528.00 171.04 L530.00 169.60 L532.00 168.17 L534.00 166.74 L536.00 165.31 L538.00 163.89 L540.00 162.48 L542.00 161.07 L544.00 159.67 L546.00 158.28 L548.00 156.89 L550.00 155.51 L552.00 154.13 L554.00 152.76 L556.00 151.39 L558.00 150.03 L560.00 148.68 L562.00 147.33 L564.00 145.98 L566.00 144.64 L568.00 143.31 L570.00 141.97 L572.00 140.65 L574.00 139.33 L576.00 138.01 L578.00 136.70 L580.00 135.39 L582.00 134.08 L584.00 132.78 L586.00 131.49 L588.00 130.20 L590.00 128.91 L592.00 127.62 L594.00 126.34 L596.00 125.07 L598.00 123.79 L600.00 122.52 L602.00 121.25 L604.00 119.99 L606.00 118.73 L608.00 117.47 L610.00 116.22 L612.00 114.96 L614.00 113.71 L616.00 112.47 L618.00 111.22 L620.00 109.98 L622.00 108.74 L624.00 107.50 L626.00 106.27 L628.00 105.03 L630.00 103.80 L632.00 102.57 L634.00 101.34 L636.00 100.12 L638.00 98.89 L640.00 97.67 L642.00 96.44 L644.00 95.22 L646.00 94.01 L648.00 92.79 L650.00 91.58 L652.00 90.36 L654.00 89.15 L656.00 87.95 L658.00 86.75 L660.00 85.55 L662.00 84.35 L664.00 83.16 L666.00 81.98 L668.00 80.80 L670.00 79.62 L672.00 78.45 L674.00 77.28 L676.00 76.12 L678.00 74.97 L680.00 73.82 L682.00 72.67 L684.00 71.54 L686.00 70.41 L688.00 69.29 L690.00 68.17 L692.00 67.07 L694.00 65.97 L696.00 64.88 L698.00 63.80 L700.00 62.72 L702.00 61.66 L704.00 60.60 L706.00 59.56 L708.00 58.52 L710.00 57.49 L712.00 56.48 L714.00 55.47 L716.00 54.48 L718.00 53.49 L720.00 52.52 L722.00 51.56 L724.00 50.61 L726.00 49.67 L728.00 48.74 L730.00 47.83 L732.00 46.93 L734.00 46.04 L736.00 45.16 L738.00 44.30 L740.00 43.46 L742.00 42.62 L744.00 41.80 L746.00 40.99 L748.00 40.20 L750.00 39.42 L752.00 38.65 L754.00 37.90 L756.00 37.15 L758.00 36.42 L760.00 35.71 L762.00 35.00 L764.00 34.30 L766.00 33.62 L768.00 32.94 L770.00 32.28 L772.00 31.63 L774.00 30.99 L776.00 30.36 L778.00 29.73 L780.00 29.12 L782.00 28.52 L784.00 27.92 L786.00 27.34 L788.00 26.76 L790.00 26.20 L792.00 25.64 L794.00 25.09 L796.00 24.54 L798.00 24.01 L800.00 23.48 L802.00 22.96 L804.00 22.44 L806.00 21.94 L808.00 21.43 L810.00 20.94 L812.00 20.45 L814.00 19.97 L816.00 19.49 L818.00 19.02" fill="none" stroke="#00a000" stroke-width="1.75" stroke-linejoin="round" stroke-dasharray="10.9 5.3 3 5.3" stroke-dashoffset="0.00"/>
<line x1="108.00" y1="445.70" x2="115.10" y2="445.70" stroke="#000" stroke-width="2.45" />
<line x1="817.90" y1="445.70" x2="810.80" y2="445.70" stroke="#000" stroke-width="2.45" />
<line x1="108.00" y1="445.70" x2="108.00" y2="886.40" stroke="#000" stroke-width="2.45" />
<line x1="817.90" y1="445.70" x2="817.90" y2="886.40" stroke="#000" stroke-width="2.45" />
<path clip-path="url(#c2)" d="M108.20 886.40 L110.20 880.40 L112.20 875.05 L114.20 871.20 L116.20 868.25 L118.20 865.57 L120.20 862.81 L122.20 858.41 L124.20 849.85 L126.20 846.02 L128.20 844.88 L130.20 843.28 L132.20 839.57 L134.20 836.83 L136.20 835.44 L138.20 834.41 L140.20 833.66 L142.20 833.10 L144.20 832.60 L146.20 832.53 L148.20 832.80 L150.20 834.66 L152.20 835.10 L154.20 835.12 L156.20 834.17 L158.20 832.81 L160.20 832.95 L162.20 832.95 L164.20 832.48 L166.20 831.56 L168.20 830.07 L170.20 829.31 L172.20 828.41 L174.20 827.52 L176.20 826.35 L178.20 824.55 L180.20 822.30 L182.20 819.41 L184.20 815.25 L186.20 809.61 L188.20 803.60 L190.20 798.33 L192.20 793.88 L194.20 790.18 L196.20 787.18 L198.20 785.05 L200.20 783.49 L202.20 782.33 L204.20 781.10 L206.20 779.58 L208.20 777.74 L210.20 775.34 L212.20 772.74 L214.20 769.84 L216.20 766.12 L218.20 761.94 L220.20 757.58 L222.20 753.48 L224.20 749.60 L226.20 746.00 L228.20 742.63 L230.20 739.48 L232.20 736.32 L234.20 733.25 L236.20 730.27 L238.20 727.34 L240.20 724.48 L242.20 721.65 L244.20 718.85 L246.20 716.06 L248.20 713.28 L250.20 710.49 L252.20 707.68 L254.20 704.85 L256.20 702.02 L258.20 699.18 L260.20 696.35 L262.20 693.52 L264.20 690.72 L266.20 687.94 L268.20 685.19 L270.20 682.48 L272.20 679.81 L274.20 677.19 L276.20 674.63 L278.20 672.12 L280.20 669.67 L282.20 667.27 L284.20 664.91 L286.20 662.60 L288.20 660.33 L290.20 658.09 L292.20 655.89 L294.20 653.71 L296.20 651.56 L298.20 649.44 L300.20 647.33 L302.20 645.24 L304.20 643.17 L306.20 641.12 L308.20 639.08 L310.20 637.07 L312.20 635.08 L314.20 633.10 L316.20 631.16 L318.20 629.23 L320.20 627.33 L322.20 625.46 L324.20 623.62 L326.20 621.80 L328.20 620.01 L330.20 618.25 L332.20 616.53 L334.20 614.83 L336.20 613.17 L338.20 611.53 L340.20 609.92 L342.20 608.35 L344.20 606.80 L346.20 605.28 L348.20 603.79 L350.20 602.32 L352.20 600.88 L354.20 599.47 L356.20 598.09 L358.20 596.74 L360.20 595.40 L362.20 594.10 L364.20 592.82 L366.20 591.56 L368.20 590.33 L370.20 589.13 L372.20 587.94 L374.20 586.78 L376.20 585.64 L378.20 584.51 L380.20 583.41 L382.20 582.33 L384.20 581.26 L386.20 580.21 L388.20 579.18 L390.20 578.16 L392.20 577.16 L394.20 576.17 L396.20 575.20 L398.20 574.24 L400.20 573.29 L402.20 572.35 L404.20 571.42 L406.20 570.50 L408.20 569.59 L410.20 568.68 L412.20 567.78 L414.20 566.89 L416.20 566.01 L418.20 565.13 L420.20 564.26 L422.20 563.40 L424.20 562.54 L426.20 561.70 L428.20 560.85 L430.20 560.02 L432.20 559.19 L434.20 558.37 L436.20 557.55 L438.20 556.74 L440.20 555.94 L442.20 555.15 L444.20 554.36 L446.20 553.57 L448.20 552.80 L450.20 552.03 L452.20 551.27 L454.20 550.51 L456.20 549.76 L458.20 549.02 L460.20 548.28 L462.20 547.55 L464.20 546.83 L466.20 546.11 L468.20 545.40 L470.20 544.70 L472.20 544.00 L474.20 543.31 L476.20 542.62 L478.20 541.94 L480.20 541.27 L482.20 540.60 L484.20 539.94 L486.20 539.28 L488.20 538.63 L490.20 537.99 L492.20 537.35 L494.20 536.71 L496.20 536.09 L498.20 535.46 L500.20 534.85 L502.20 534.24 L504.20 533.63 L506.20 533.03 L508.20 532.43 L510.20 531.84 L512.20 531.25 L514.20 530.67 L516.20 530.10 L518.20 529.52 L520.20 528.96 L522.20 528.40 L524.20 527.84 L526.20 527.28 L528.20 526.74 L530.20 526.19 L532.20 525.65 L534.20 525.12 L536.20 524.58 L538.20 524.06 L540.20 523.53 L542.20 523.01 L544.20 522.50 L546.20 521.99 L548.20 521.48 L550.20 520.97 L552.20 520.47 L554.20 519.98 L556.20 519.48 L558.20 518.99 L560.20 518.50 L562.20 518.02 L564.20 517.54 L566.20 517.06 L568.20 516.59 L570.20 516.12 L572.20 515.65 L574.20 515.19 L576.20 514.73 L578.20 514.27 L580.20 513.81 L582.20 513.36 L584.20 512.91 L586.20 512.46 L588.20 512.02 L590.20 511.58 L592.20 511.14 L594.20 510.71 L596.20 510.28 L598.20 509.85 L600.20 509.42 L602.20 509.00 L604.20 508.57 L606.20 508.16 L608.20 507.74 L610.20 507.33 L612.20 506.92 L614.20 506.51 L616.20 506.10 L618.20 505.70 L620.20 505.30 L622.20 504.90 L624.20 504.50 L626.20 504.11 L628.20 503.72 L630.20 503.33 L632.20 502.94 L634.20 502.56 L636.20 502.18 L638.20 501.80 L640.20 501.42 L642.20 501.04 L644.20 500.67 L646.20 500.30 L648.20 499.93 L650.20 499.56 L652.20 499.19 L654.20 498.83 L656.20 498.47 L658.20 498.11 L660.20 497.75 L662.20 497.39 L664.20 497.04 L666.20 496.69 L668.20 496.34 L670.20 495.99 L672.20 495.64 L674.20 495.29 L676.20 494.95 L678.20 494.61 L680.20 494.27 L682.20 493.93 L684.20 493.59 L686.20 493.25 L688.20 492.92 L690.20 492.59 L692.20 492.25 L694.20 491.92 L696.20 491.60 L698.20 491.27 L700.20 490.94 L702.20 490.62 L704.20 490.30 L706.20 489.98 L708.20 489.66 L710.20 489.34 L712.20 489.02 L714.20 488.70 L716.20 488.39 L718.20 488.08 L720.20 487.76 L722.20 487.45 L724.20 487.14 L726.20 486.84 L728.20 486.53 L730.20 486.22 L732.20 485.92 L734.20 485.61 L736.20 485.31 L738.20 485.01 L740.20 484.71 L742.20 484.41 L744.20 484.11 L746.20 483.81 L748.20 483.51 L750.20 483.22 L752.20 482.92 L754.20 482.63 L756.20 482.34 L758.20 482.04 L760.20 481.75 L762.20 481.46 L764.20 481.17 L766.20 480.88 L766.60 480.83" fill="none" stroke="#000000" stroke-width="1.75" stroke-linejoin="round" />
<path clip-path="url(#c2)" d="M108.20 886.40 L110.20 880.40 L112.20 875.05 L114.20 871.20 L116.20 868.25 L118.20 865.57 L120.20 862.81 L122.20 858.41 L124.20 849.85 L126.20 846.02 L128.20 844.88 L130.20 843.28 L132.20 839.57 L134.20 836.83 L136.20 835.44 L138.20 834.41 L140.20 833.66 L142.20 833.10 L144.20 832.60 L146.20 832.53 L148.20 832.80 L150.20 834.66 L152.20 835.10 L154.20 835.12 L156.20 834.17 L158.20 832.81 L160.20 832.95 L162.20 832.95 L164.20 832.48 L166.20 831.56 L168.20 830.07 L170.20 829.31 L172.20 828.41 L174.20 827.52 L176.20 826.35 L178.20 824.55 L180.20 822.30 L182.20 819.41 L184.20 815.25 L186.20 809.61 L188.20 803.60 L190.20 798.33 L192.20 793.88 L194.20 790.18 L196.20 787.18 L198.20 785.05 L200.20 783.49 L202.20 782.33 L204.20 781.10 L206.20 779.58 L208.20 777.74 L210.20 775.34 L212.20 772.74 L214.20 769.84 L216.20 766.12 L218.20 761.94 L220.20 757.58 L222.20 753.48 L224.20 749.60 L226.20 746.00 L228.20 742.63 L230.20 739.48 L232.20 736.32 L234.20 733.25 L236.20 730.27 L238.20 727.34 L240.20 724.48 L242.20 721.65 L244.20 718.85 L246.20 716.06 L248.20 713.28 L250.20 710.49 L252.20 707.68 L254.20 704.85 L256.20 702.02 L258.20 699.18 L260.20 696.35 L262.20 693.52 L264.20 690.72 L266.20 687.94 L268.20 685.19 L270.20 682.48 L272.20 679.81 L274.20 677.19 L276.20 674.63 L278.20 672.12 L280.20 669.67 L282.20 667.27 L284.20 664.91 L286.20 662.60 L288.20 660.33 L290.20 658.09 L292.20 655.89 L294.20 653.71 L296.20 651.56 L298.20 649.44 L300.20 647.33 L302.20 645.24 L304.20 643.17 L306.20 641.12 L308.20 639.08 L310.20 637.07 L312.20 635.08 L314.20 633.10 L316.20 631.16 L318.20 629.23 L320.20 627.33 L322.20 625.46 L324.20 623.62 L326.20 621.80 L328.20 620.01 L330.20 618.25 L332.20 616.53 L334.20 614.83 L336.20 613.17 L338.20 611.53 L340.20 609.92 L342.20 608.35 L344.20 606.80 L346.20 605.28 L348.20 603.79 L350.20 602.32 L352.20 600.88 L354.20 599.47 L356.20 598.09 L358.20 596.74 L360.20 595.40 L362.20 594.10 L364.20 592.82 L366.20 591.56 L368.20 590.33 L370.20 589.13 L372.20 587.94 L374.20 586.78 L376.20 585.64 L378.20 584.51 L380.20 583.41 L382.20 582.33 L384.20 581.26 L386.20 580.21 L388.20 579.18 L390.20 578.16 L392.20 577.16 L394.20 576.17 L396.20 575.20 L398.20 574.24 L400.20 573.29 L402.20 572.35 L404.20 571.42 L406.20 570.50 L408.20 569.59 L410.20 568.68 L412.20 567.78 L414.20 566.89 L416.20 566.01 L418.20 565.13 L420.20 564.26 L422.20 563.40 L424.20 562.54 L426.20 561.70 L428.20 560.85 L430.20 560.02 L432.20 559.19 L434.20 558.37 L436.20 557.55 L438.20 556.74 L440.20 555.94 L442.20 555.15 L444.20 554.36 L446.20 553.57 L448.20 552.80 L450.20 552.03 L452.20 551.27 L454.20 550.51 L456.20 549.76 L458.20 549.02 L460.20 548.28 L462.20 547.55 L464.20 546.83 L466.20 546.11 L468.20 545.40 L470.20 544.70 L472.20 544.00 L474.20 543.31 L476.20 542.62 L478.20 541.94 L480.20 541.27 L482.20 540.60 L484.20 539.94 L486.20 539.28 L488.20 538.63 L488.50 538.53" fill="none" stroke="#ff00aa" stroke-width="1.75" stroke-linejoin="round" stroke-dasharray="10.9 10.9" stroke-dashoffset="0.00"/>
<path clip-path="url(#c2)" d="M488.50 538.53 L490.20 537.99 L492.20 537.35 L494.20 536.71 L496.20 536.09 L498.20 535.46 L500.20 534.85 L502.20 534.24 L504.20 533.63 L506.20 533.03 L508.20 532.43 L510.20 531.84 L512.20 531.25 L514.20 530.67 L516.20 530.10 L518.20 529.52 L520.20 528.96 L522.20 528.40 L524.20 527.84 L526.20 527.28 L528.20 526.74 L530.20 526.19 L532.20 525.65 L534.20 525.12 L536.20 524.58 L538.20 524.06 L540.20 523.53 L542.20 523.01 L544.20 522.50 L546.20 521.99 L548.20 521.48 L550.20 520.97 L552.20 520.47 L554.20 519.98 L556.20 519.48 L558.20 518.99 L560.20 518.50 L562.20 518.02 L564.20 517.54 L566.20 517.06 L568.20 516.59 L570.20 516.12 L572.20 515.65 L574.20 515.19 L576.20 514.73 L578.20 514.27 L580.20 513.81 L582.20 513.36 L584.20 512.91 L586.20 512.46 L588.20 512.02 L590.20 511.58 L592.20 511.14 L594.20 510.71 L596.20 510.28 L598.20 509.85 L600.20 509.42 L602.20 509.00 L604.20 508.57 L606.20 508.16 L608.20 507.74 L610.20 507.33 L612.20 506.92 L614.20 506.51 L616.20 506.10 L618.20 505.70 L620.20 505.30 L622.20 504.90 L624.20 504.50 L626.20 504.11 L628.20 503.72 L630.20 503.33 L632.20 502.94 L634.20 502.56 L636.20 502.18 L638.20 501.80 L640.20 501.42 L642.20 501.04 L644.20 500.67 L646.20 500.30 L648.20 499.93 L650.20 499.56 L652.20 499.19 L654.20 498.83 L656.20 498.47 L658.20 498.11 L660.20 497.75 L662.20 497.39 L664.20 497.04 L666.20 496.69 L668.20 496.34 L670.20 495.99 L672.20 495.64 L674.20 495.29 L676.20 494.95 L678.20 494.61 L680.20 494.27 L682.20 493.93 L684.20 493.59 L686.20 493.25 L688.20 492.92 L690.20 492.59 L692.20 492.25 L694.20 491.92 L696.20 491.60 L698.20 491.27 L700.20 490.94 L702.20 490.62 L704.20 490.30 L706.20 489.98 L708.20 489.66 L710.20 489.34 L712.20 489.02 L714.20 488.70 L716.20 488.39 L718.20 488.08 L720.20 487.76 L722.20 487.45 L724.20 487.14 L726.20 486.84 L728.20 486.53 L730.20 486.22 L732.20 485.92 L734.20 485.61 L736.20 485.31 L738.20 485.01 L740.20 484.71 L742.20 484.41 L744.20 484.11 L746.20 483.81 L748.20 483.51 L750.20 483.22 L752.20 482.92 L754.20 482.63 L756.20 482.34 L758.20 482.04 L760.20 481.75 L762.20 481.46 L764.20 481.17 L766.20 480.88 L766.60 480.83" fill="none" stroke="#ff00aa" stroke-width="1.75" stroke-linejoin="round" stroke-dasharray="10.9 10.9" stroke-dashoffset="0.00"/>
<path clip-path="url(#c2)" d="M108.20 886.40 L110.20 876.61 L112.20 869.93 L114.20 865.03 L116.20 860.98 L118.20 857.24 L120.20 853.33 L122.20 849.44 L124.20 845.16 L126.20 839.47 L128.20 836.32 L130.20 834.63 L132.20 833.04 L134.20 831.61 L136.20 830.34 L138.20 829.21 L140.20 828.20 L142.20 827.30 L144.20 826.42 L146.20 825.56 L148.20 824.83 L150.20 824.35 L152.20 824.14 L154.20 824.00 L156.20 823.90 L158.20 823.81 L160.20 823.71 L162.20 823.55 L164.20 823.29 L166.20 822.89 L168.20 822.43 L170.20 821.89 L172.20 821.35 L174.20 820.90 L176.20 820.42 L178.20 819.87 L180.20 819.40 L182.20 819.03 L184.20 818.71 L186.20 818.42 L188.20 818.15 L190.20 817.99 L192.20 817.94 L194.20 817.89 L196.20 817.78 L198.20 817.38 L200.20 816.52 L202.20 815.63 L204.20 814.87 L206.20 814.23 L208.20 813.69 L210.20 813.22 L212.20 812.59 L214.20 811.78 L216.20 810.91 L218.20 809.98 L220.20 809.01 L222.20 808.09 L224.20 807.24 L226.20 806.38 L228.20 805.38 L230.20 804.17 L232.20 802.84 L234.20 801.50 L236.20 800.09 L238.20 798.72 L240.20 797.67 L242.20 796.84 L244.20 796.10 L246.20 795.39 L248.20 794.76 L250.20 793.89 L252.20 792.23 L254.20 790.40 L256.20 788.58 L258.20 787.23 L260.20 786.13 L262.20 785.11 L264.20 784.12 L266.20 783.18 L268.20 782.11 L270.20 780.79 L272.20 779.35 L274.20 777.78 L276.20 776.19 L278.20 774.79 L280.20 773.53 L282.20 772.30 L284.20 771.05 L286.20 769.82 L288.20 768.49 L290.20 766.92 L292.20 765.11 L294.20 763.00 L296.20 761.01 L298.20 758.99 L300.20 756.87 L302.20 754.68 L304.20 752.42 L306.20 750.21 L308.20 748.00 L310.20 745.77 L312.20 743.53 L314.20 741.27 L316.20 739.00 L318.20 736.71 L320.20 734.40 L322.20 732.06 L324.20 729.71 L326.20 727.34 L328.20 724.94 L330.20 722.52 L332.20 720.08 L334.20 717.64 L336.20 715.18 L338.20 712.71 L340.20 710.24 L342.20 707.77 L344.20 705.30 L346.20 702.83 L348.20 700.37 L350.20 697.92 L352.20 695.49 L354.20 693.07 L356.20 690.67 L358.20 688.28 L360.20 685.92 L362.20 683.58 L364.20 681.26 L366.20 678.96 L368.20 676.68 L370.20 674.41 L372.20 672.17 L374.20 669.94 L376.20 667.74 L378.20 665.55 L380.20 663.38 L382.20 661.22 L384.20 659.09 L386.20 656.97 L388.20 654.87 L390.20 652.79 L392.20 650.73 L394.20 648.68 L396.20 646.65 L398.20 644.64 L400.20 642.65 L402.20 640.68 L404.20 638.73 L406.20 636.79 L408.20 634.88 L410.20 632.98 L412.20 631.11 L414.20 629.26 L416.20 627.43 L418.20 625.62 L420.20 623.83 L422.20 622.06 L424.20 620.32 L426.20 618.60 L428.20 616.90 L430.20 615.23 L432.20 613.58 L434.20 611.95 L436.20 610.35 L438.20 608.77 L440.20 607.21 L442.20 605.67 L444.20 604.16 L446.20 602.67 L448.20 601.21 L450.20 599.77 L452.20 598.35 L454.20 596.95 L456.20 595.57 L458.20 594.22 L460.20 592.89 L462.20 591.58 L464.20 590.29 L466.20 589.02 L468.20 587.78 L470.20 586.55 L472.20 585.35 L474.20 584.17 L476.20 583.01 L478.20 581.87 L480.20 580.75 L482.20 579.65 L484.20 578.57 L486.20 577.51 L488.20 576.47 L488.50 576.31" fill="none" stroke="#0000ff" stroke-width="1.75" stroke-linejoin="round" stroke-dasharray="22 10.6" stroke-dashoffset="0.00"/>
<path clip-path="url(#c2)" d="M488.50 576.31 L490.20 575.44 L492.20 574.43 L494.20 573.44 L496.20 572.46 L498.20 571.50 L500.20 570.56 L502.20 569.63 L504.20 568.71 L506.20 567.81 L508.20 566.92 L510.20 566.04 L512.20 565.18 L514.20 564.33 L516.20 563.49 L518.20 562.66 L520.20 561.84 L522.20 561.03 L524.20 560.22 L526.20 559.43 L528.20 558.65 L530.20 557.87 L532.20 557.10 L534.20 556.34 L536.20 555.58 L538.20 554.83 L540.20 554.09 L542.20 553.35 L544.20 552.61 L546.20 551.88 L548.20 551.16 L550.20 550.44 L552.20 549.72 L554.20 549.01 L556.20 548.30 L558.20 547.60 L560.20 546.90 L562.20 546.21 L564.20 545.52 L566.20 544.84 L568.20 544.16 L570.20 543.49 L572.20 542.82 L574.20 542.15 L576.20 541.49 L578.20 540.84 L580.20 540.18 L582.20 539.54 L584.20 538.90 L586.20 538.26 L588.20 537.63 L590.20 537.00 L592.20 536.37 L594.20 535.76 L596.20 535.14 L598.20 534.53 L600.20 533.92 L602.20 533.32 L604.20 532.73 L606.20 532.13 L608.20 531.55 L610.20 530.96 L612.20 530.38 L614.20 529.81 L616.20 529.24 L618.20 528.67 L620.20 528.11 L622.20 527.55 L624.20 527.00 L626.20 526.45 L628.20 525.90 L630.20 525.36 L632.20 524.83 L634.20 524.29 L636.20 523.77 L638.20 523.24 L640.20 522.72 L642.20 522.21 L644.20 521.70 L646.20 521.19 L648.20 520.69 L650.20 520.19 L652.20 519.69 L654.20 519.20 L656.20 518.71 L658.20 518.23 L660.20 517.75 L662.20 517.27 L664.20 516.80 L666.20 516.33 L668.20 515.86 L670.20 515.40 L672.20 514.94 L674.20 514.48 L676.20 514.03 L678.20 513.58 L680.20 513.13 L682.20 512.69 L684.20 512.25 L686.20 511.81 L688.20 511.37 L690.20 510.94 L692.20 510.51 L694.20 510.08 L696.20 509.65 L698.20 509.23 L700.20 508.81 L702.20 508.39 L704.20 507.98 L706.20 507.56 L708.20 507.15 L710.20 506.74 L712.20 506.34 L714.20 505.93 L716.20 505.53 L718.20 505.13 L720.20 504.73 L722.20 504.33 L724.20 503.93 L726.20 503.54 L728.20 503.14 L730.20 502.75 L732.20 502.36 L734.20 501.97 L736.20 501.59 L738.20 501.20 L740.20 500.82 L742.20 500.43 L744.20 500.05 L746.20 499.67 L748.20 499.29 L750.20 498.91 L752.20 498.53 L754.20 498.15 L756.20 497.78 L758.20 497.40 L760.20 497.03 L762.20 496.66 L764.20 496.28 L766.20 495.91 L768.20 495.54 L770.20 495.17 L772.20 494.81 L774.20 494.44 L776.20 494.07 L778.20 493.71 L780.20 493.34 L782.20 492.98 L784.20 492.62 L786.20 492.26 L788.20 491.89 L790.20 491.53 L792.20 491.18 L794.20 490.82 L796.20 490.46 L798.20 490.10 L800.20 489.75 L802.20 489.39 L804.20 489.04 L806.20 488.68 L808.20 488.33 L810.20 487.98 L812.20 487.63 L814.20 487.28 L816.20 486.93 L817.90 486.63" fill="none" stroke="#0000ff" stroke-width="1.75" stroke-linejoin="round" stroke-dasharray="22 10.6" stroke-dashoffset="0.00"/>
<path clip-path="url(#c2)" d="M108.20 886.40 L110.20 876.51 L112.20 868.85 L114.20 863.25 L116.20 858.66 L118.20 854.77 L120.20 851.78 L122.20 849.08 L124.20 843.62 L126.20 837.73 L128.20 835.56 L130.20 834.78 L132.20 833.48 L134.20 830.69 L136.20 828.31 L138.20 826.15 L140.20 824.67 L142.20 823.64 L144.20 822.86 L146.20 822.45 L148.20 822.26 L150.20 822.14 L152.20 821.99 L154.20 821.70 L156.20 821.20 L158.20 820.62 L160.20 820.10 L162.20 819.68 L164.20 819.28 L166.20 818.92 L168.20 818.61 L170.20 818.26 L172.20 817.68 L174.20 817.02 L176.20 816.46 L178.20 815.96 L180.20 815.47 L182.20 814.97 L184.20 814.46 L186.20 813.95 L188.20 813.47 L190.20 812.97 L192.20 812.41 L194.20 811.80 L196.20 811.12 L198.20 810.34 L200.20 809.36 L202.20 808.29 L204.20 807.33 L206.20 806.49 L208.20 805.66 L210.20 804.82 L212.20 803.97 L214.20 803.10 L216.20 802.21 L218.20 801.27 L220.20 800.27 L222.20 799.21 L224.20 798.07 L226.20 796.84 L228.20 795.51 L230.20 794.12 L232.20 792.65 L234.20 791.13 L236.20 789.57 L238.20 787.97 L240.20 786.36 L242.20 784.74 L244.20 783.12 L246.20 781.51 L248.20 779.93 L250.20 778.35 L252.20 776.77 L254.20 775.20 L256.20 773.61 L258.20 772.02 L260.20 770.40 L262.20 768.76 L264.20 767.09 L266.20 765.38 L268.20 763.63 L270.20 761.83 L272.20 759.97 L274.20 758.07 L276.20 756.11 L278.20 754.11 L280.20 752.06 L282.20 749.96 L284.20 747.81 L286.20 745.62 L288.20 743.39 L290.20 741.12 L292.20 738.81 L294.20 736.46 L296.20 734.08 L298.20 731.66 L300.20 729.21 L302.20 726.72 L304.20 724.21 L306.20 721.67 L308.20 719.11 L310.20 716.52 L312.20 713.92 L314.20 711.31 L316.20 708.69 L318.20 706.06 L320.20 703.42 L322.20 700.79 L324.20 698.15 L326.20 695.52 L328.20 692.90 L330.20 690.29 L332.20 687.69 L334.20 685.11 L336.20 682.54 L338.20 680.00 L340.20 677.49 L342.20 674.99 L344.20 672.52 L346.20 670.07 L348.20 667.64 L350.20 665.24 L352.20 662.86 L354.20 660.51 L356.20 658.18 L358.20 655.88 L360.20 653.60 L362.20 651.35 L364.20 649.13 L366.20 646.94 L368.20 644.77 L370.20 642.64 L372.20 640.53 L374.20 638.45 L376.20 636.40 L378.20 634.38 L380.20 632.38 L382.20 630.42 L384.20 628.48 L386.20 626.57 L388.20 624.68 L390.20 622.82 L392.20 620.99 L394.20 619.19 L396.20 617.41 L398.20 615.66 L400.20 613.94 L402.20 612.24 L404.20 610.57 L406.20 608.92 L408.20 607.30 L410.20 605.70 L412.20 604.13 L414.20 602.58 L416.20 601.06 L418.20 599.56 L420.20 598.08 L422.20 596.63 L424.20 595.20 L426.20 593.79 L428.20 592.40 L430.20 591.03 L432.20 589.69 L434.20 588.36 L436.20 587.06 L438.20 585.77 L440.20 584.51 L442.20 583.26 L444.20 582.03 L446.20 580.82 L448.20 579.63 L450.20 578.45 L452.20 577.30 L454.20 576.15 L456.20 575.03 L458.20 573.92 L460.20 572.83 L462.20 571.75 L464.20 570.68 L466.20 569.63 L468.20 568.60 L470.20 567.57 L472.20 566.57 L474.20 565.57 L476.20 564.59 L478.20 563.62 L480.20 562.67 L482.20 561.73 L484.20 560.80 L486.20 559.88 L488.20 558.97 L488.50 558.84" fill="none" stroke="#00a000" stroke-width="1.75" stroke-linejoin="round" stroke-dasharray="10.9 5.3 3 5.3" stroke-dashoffset="0.00"/>
<path clip-path="url(#c2)" d="M488.50 558.84 L490.20 558.08 L492.20 557.19 L494.20 556.32 L496.20 555.46 L498.20 554.61 L500.20 553.77 L502.20 552.94 L504.20 552.12 L506.20 551.31 L508.20 550.51 L510.20 549.72 L512.20 548.93 L514.20 548.16 L516.20 547.39 L518.20 546.64 L520.20 545.89 L522.20 545.14 L524.20 544.41 L526.20 543.68 L528.20 542.96 L530.20 542.25 L532.20 541.54 L534.20 540.84 L536.20 540.15 L538.20 539.46 L540.20 538.78 L542.20 538.10 L544.20 537.43 L546.20 536.76 L548.20 536.10 L550.20 535.44 L552.20 534.79 L554.20 534.14 L556.20 533.50 L558.20 532.86 L560.20 532.23 L562.20 531.60 L564.20 530.98 L566.20 530.36 L568.20 529.75 L570.20 529.14 L572.20 528.53 L574.20 527.93 L576.20 527.34 L578.20 526.74 L580.20 526.16 L582.20 525.57 L584.20 524.99 L586.20 524.42 L588.20 523.85 L590.20 523.28 L592.20 522.71 L594.20 522.15 L596.20 521.60 L598.20 521.04 L600.20 520.49 L602.20 519.95 L604.20 519.40 L606.20 518.86 L608.20 518.33 L610.20 517.79 L612.20 517.27 L614.20 516.74 L616.20 516.21 L618.20 515.69 L620.20 515.18 L622.20 514.66 L624.20 514.15 L626.20 513.64 L628.20 513.13 L630.20 512.63 L632.20 512.13 L634.20 511.63 L636.20 511.13 L638.20 510.64 L640.20 510.15 L642.20 509.66 L644.20 509.17 L646.20 508.69 L648.20 508.20 L650.20 507.72 L652.20 507.24 L654.20 506.77 L656.20 506.30 L658.20 505.83 L660.20 505.36 L662.20 504.89 L664.20 504.43 L666.20 503.97 L668.20 503.51 L670.20 503.05 L672.20 502.60 L674.20 502.15 L676.20 501.70 L678.20 501.26 L680.20 500.81 L682.20 500.37 L684.20 499.94 L686.20 499.50 L688.20 499.07 L690.20 498.64 L692.20 498.22 L694.20 497.79 L696.20 497.37 L698.20 496.96 L700.20 496.54 L702.20 496.13 L704.20 495.72 L706.20 495.32 L708.20 494.91 L710.20 494.51 L712.20 494.12 L714.20 493.72 L716.20 493.33 L718.20 492.94 L720.20 492.56 L722.20 492.18 L724.20 491.80 L726.20 491.43 L728.20 491.05 L730.20 490.69 L732.20 490.32 L734.20 489.96 L736.20 489.60 L738.20 489.24 L740.20 488.89 L742.20 488.54 L744.20 488.20 L746.20 487.86 L748.20 487.52 L750.20 487.18 L752.20 486.84 L754.20 486.51 L756.20 486.18 L758.20 485.85 L760.20 485.52 L762.20 485.20 L764.20 484.87 L766.20 484.55 L768.20 484.23 L770.20 483.90 L772.20 483.58 L774.20 483.26 L776.20 482.94 L778.20 482.62 L780.20 482.30 L782.20 481.97 L784.20 481.65 L786.20 481.33 L788.20 481.00 L790.20 480.68 L792.20 480.35 L794.20 480.02 L796.20 479.69 L798.20 479.36 L800.20 479.02 L802.20 478.68 L804.20 478.34 L806.20 478.00 L808.20 477.65 L810.20 477.30 L812.20 476.95 L814.20 476.60 L816.20 476.24 L817.90 475.93" fill="none" stroke="#00a000" stroke-width="1.75" stroke-linejoin="round" stroke-dasharray="10.9 5.3 3 5.3" stroke-dashoffset="0.00"/>
<path transform="translate(98.90 445.90)" d="M-36.90 -18.90 L-39.60 -18.00 L-41.40 -15.30 L-42.30 -10.80 L-42.30 -8.10 L-41.40 -3.60 L-39.60 -0.90 L-36.90 0.00 L-35.10 0.00 L-32.40 -0.90 L-30.60 -3.60 L-29.70 -8.10 L-29.70 -10.80 L-30.60 -15.30 L-32.40 -18.00 L-35.10 -18.90 L-36.90 -18.90 M-22.50 -1.80 L-23.40 -0.90 L-22.50 0.00 L-21.60 -0.90 L-22.50 -1.80 M-9.90 -18.90 L-12.60 -18.00 L-14.40 -15.30 L-15.30 -10.80 L-15.30 -8.10 L-14.40 -3.60 L-12.60 -0.90 L-9.90 0.00 L-8.10 0.00 L-5.40 -0.90 L-3.60 -3.60 L-2.70 -8.10 L-2.70 -10.80 L-3.60 -15.30 L-5.40 -18.00 L-8.10 -18.90 L-9.90 -18.90" fill="none" stroke="#000" stroke-width="1.75" stroke-linejoin="bevel" stroke-linecap="butt"/>
<path transform="translate(98.90 333.92)" d="M-36.90 -18.90 L-39.60 -18.00 L-41.40 -15.30 L-42.30 -10.80 L-42.30 -8.10 L-41.40 -3.60 L-39.60 -0.90 L-36.90 0.00 L-35.10 0.00 L-32.40 -0.90 L-30.60 -3.60 L-29.70 -8.10 L-29.70 -10.80 L-30.60 -15.30 L-32.40 -18.00 L-35.10 -18.90 L-36.90 -18.90 M-22.50 -1.80 L-23.40 -0.90 L-22.50 0.00 L-21.60 -0.90 L-22.50 -1.80 M-4.50 -18.90 L-13.50 -18.90 L-14.40 -10.80 L-13.50 -11.70 L-10.80 -12.60 L-8.10 -12.60 L-5.40 -11.70 L-3.60 -9.90 L-2.70 -7.20 L-2.70 -5.40 L-3.60 -2.70 L-5.40 -0.90 L-8.10 0.00 L-10.80 0.00 L-13.50 -0.90 L-14.40 -1.80 L-15.30 -3.60" fill="none" stroke="#000" stroke-width="1.75" stroke-linejoin="bevel" stroke-linecap="butt"/>
<path transform="translate(98.90 211.33)" d="M-39.60 -15.30 L-37.80 -16.20 L-35.10 -18.90 L-35.10 0.00 M-22.50 -1.80 L-23.40 -0.90 L-22.50 0.00 L-21.60 -0.90 L-22.50 -1.80 M-9.90 -18.90 L-12.60 -18.00 L-14.40 -15.30 L-15.30 -10.80 L-15.30 -8.10 L-14.40 -3.60 L-12.60 -0.90 L-9.90 0.00 L-8.10 0.00 L-5.40 -0.90 L-3.60 -3.60 L-2.70 -8.10 L-2.70 -10.80 L-3.60 -15.30 L-5.40 -18.00 L-8.10 -18.90 L-9.90 -18.90" fill="none" stroke="#000" stroke-width="1.75" stroke-linejoin="bevel" stroke-linecap="butt"/>
<path transform="translate(98.90 88.75)" d="M-39.60 -15.30 L-37.80 -16.20 L-35.10 -18.90 L-35.10 0.00 M-22.50 -1.80 L-23.40 -0.90 L-22.50 0.00 L-21.60 -0.90 L-22.50 -1.80 M-4.50 -18.90 L-13.50 -18.90 L-14.40 -10.80 L-13.50 -11.70 L-10.80 -12.60 L-8.10 -12.60 L-5.40 -11.70 L-3.60 -9.90 L-2.70 -7.20 L-2.70 -5.40 L-3.60 -2.70 L-5.40 -0.90 L-8.10 0.00 L-10.80 0.00 L-13.50 -0.90 L-14.40 -1.80 L-15.30 -3.60" fill="none" stroke="#000" stroke-width="1.75" stroke-linejoin="bevel" stroke-linecap="butt"/>
<path transform="translate(98.90 886.80)" d="M-41.76 -15.30 L-39.96 -16.20 L-37.26 -18.90 L-37.26 0.00 M-21.06 -18.90 L-23.76 -18.00 L-25.56 -15.30 L-26.46 -10.80 L-26.46 -8.10 L-25.56 -3.60 L-23.76 -0.90 L-21.06 0.00 L-19.26 0.00 L-16.56 -0.90 L-14.76 -3.60 L-13.86 -8.10 L-13.86 -10.80 L-14.76 -15.30 L-16.56 -18.00 L-19.26 -18.90 L-21.06 -18.90 M-1.67 -25.37 L-7.25 -13.65 M-9.49 -25.37 L-1.67 -25.37" fill="none" stroke="#000" stroke-width="1.75" stroke-linejoin="bevel" stroke-linecap="butt"/>
<path transform="translate(98.90 705.78)" d="M-41.76 -15.30 L-39.96 -16.20 L-37.26 -18.90 L-37.26 0.00 M-21.06 -18.90 L-23.76 -18.00 L-25.56 -15.30 L-26.46 -10.80 L-26.46 -8.10 L-25.56 -3.60 L-23.76 -0.90 L-21.06 0.00 L-19.26 0.00 L-16.56 -0.90 L-14.76 -3.60 L-13.86 -8.10 L-13.86 -10.80 L-14.76 -15.30 L-16.56 -18.00 L-19.26 -18.90 L-21.06 -18.90 M-6.70 -25.37 L-8.37 -24.81 L-8.93 -23.69 L-8.93 -22.58 L-8.37 -21.46 L-7.25 -20.90 L-5.02 -20.35 L-3.35 -19.79 L-2.23 -18.67 L-1.67 -17.56 L-1.67 -15.88 L-2.23 -14.77 L-2.79 -14.21 L-4.46 -13.65 L-6.70 -13.65 L-8.37 -14.21 L-8.93 -14.77 L-9.49 -15.88 L-9.49 -17.56 L-8.93 -18.67 L-7.81 -19.79 L-6.14 -20.35 L-3.91 -20.90 L-2.79 -21.46 L-2.23 -22.58 L-2.23 -23.69 L-2.79 -24.81 L-4.46 -25.37 L-6.70 -25.37" fill="none" stroke="#000" stroke-width="1.75" stroke-linejoin="bevel" stroke-linecap="butt"/>
<path transform="translate(98.90 514.25)" d="M-41.76 -15.30 L-39.96 -16.20 L-37.26 -18.90 L-37.26 0.00 M-21.06 -18.90 L-23.76 -18.00 L-25.56 -15.30 L-26.46 -10.80 L-26.46 -8.10 L-25.56 -3.60 L-23.76 -0.90 L-21.06 0.00 L-19.26 0.00 L-16.56 -0.90 L-14.76 -3.60 L-13.86 -8.10 L-13.86 -10.80 L-14.76 -15.30 L-16.56 -18.00 L-19.26 -18.90 L-21.06 -18.90 M-2.23 -21.46 L-2.79 -19.79 L-3.91 -18.67 L-5.58 -18.11 L-6.14 -18.11 L-7.81 -18.67 L-8.93 -19.79 L-9.49 -21.46 L-9.49 -22.02 L-8.93 -23.69 L-7.81 -24.81 L-6.14 -25.37 L-5.58 -25.37 L-3.91 -24.81 L-2.79 -23.69 L-2.23 -21.46 L-2.23 -18.67 L-2.79 -15.88 L-3.91 -14.21 L-5.58 -13.65 L-6.70 -13.65 L-8.37 -14.21 L-8.93 -15.32" fill="none" stroke="#000" stroke-width="1.75" stroke-linejoin="bevel" stroke-linecap="butt"/>
<path transform="translate(200.86 926.90)" d="M-14.40 -18.90 L-17.10 -18.00 L-18.90 -15.30 L-19.80 -10.80 L-19.80 -8.10 L-18.90 -3.60 L-17.10 -0.90 L-14.40 0.00 L-12.60 0.00 L-9.90 -0.90 L-8.10 -3.60 L-7.20 -8.10 L-7.20 -10.80 L-8.10 -15.30 L-9.90 -18.00 L-12.60 -18.90 L-14.40 -18.90 M0.00 -1.80 L-0.90 -0.90 L0.00 0.00 L0.90 -0.90 L0.00 -1.80 M8.10 -14.40 L8.10 -15.30 L9.00 -17.10 L9.90 -18.00 L11.70 -18.90 L15.30 -18.90 L17.10 -18.00 L18.00 -17.10 L18.90 -15.30 L18.90 -13.50 L18.00 -11.70 L16.20 -9.00 L7.20 0.00 L19.80 0.00" fill="none" stroke="#000" stroke-width="1.75" stroke-linejoin="bevel" stroke-linecap="butt"/>
<path transform="translate(302.22 926.90)" d="M-14.40 -18.90 L-17.10 -18.00 L-18.90 -15.30 L-19.80 -10.80 L-19.80 -8.10 L-18.90 -3.60 L-17.10 -0.90 L-14.40 0.00 L-12.60 0.00 L-9.90 -0.90 L-8.10 -3.60 L-7.20 -8.10 L-7.20 -10.80 L-8.10 -15.30 L-9.90 -18.00 L-12.60 -18.90 L-14.40 -18.90 M0.00 -1.80 L-0.90 -0.90 L0.00 0.00 L0.90 -0.90 L0.00 -1.80 M16.20 -18.90 L7.20 -6.30 L20.70 -6.30 M16.20 -18.90 L16.20 0.00" fill="none" stroke="#000" stroke-width="1.75" stroke-linejoin="bevel" stroke-linecap="butt"/>
<path transform="translate(403.58 926.90)" d="M-14.40 -18.90 L-17.10 -18.00 L-18.90 -15.30 L-19.80 -10.80 L-19.80 -8.10 L-18.90 -3.60 L-17.10 -0.90 L-14.40 0.00 L-12.60 0.00 L-9.90 -0.90 L-8.10 -3.60 L-7.20 -8.10 L-7.20 -10.80 L-8.10 -15.30 L-9.90 -18.00 L-12.60 -18.90 L-14.40 -18.90 M0.00 -1.80 L-0.90 -0.90 L0.00 0.00 L0.90 -0.90 L0.00 -1.80 M18.90 -16.20 L18.00 -18.00 L15.30 -18.90 L13.50 -18.90 L10.80 -18.00 L9.00 -15.30 L8.10 -10.80 L8.10 -6.30 L9.00 -2.70 L10.80 -0.90 L13.50 0.00 L14.40 0.00 L17.10 -0.90 L18.90 -2.70 L19.80 -5.40 L19.80 -6.30 L18.90 -9.00 L17.10 -10.80 L14.40 -11.70 L13.50 -11.70 L10.80 -10.80 L9.00 -9.00 L8.10 -6.30" fill="none" stroke="#000" stroke-width="1.75" stroke-linejoin="bevel" stroke-linecap="butt"/>
<path transform="translate(504.94 926.90)" d="M-14.40 -18.90 L-17.10 -18.00 L-18.90 -15.30 L-19.80 -10.80 L-19.80 -8.10 L-18.90 -3.60 L-17.10 -0.90 L-14.40 0.00 L-12.60 0.00 L-9.90 -0.90 L-8.10 -3.60 L-7.20 -8.10 L-7.20 -10.80 L-8.10 -15.30 L-9.90 -18.00 L-12.60 -18.90 L-14.40 -18.90 M0.00 -1.80 L-0.90 -0.90 L0.00 0.00 L0.90 -0.90 L0.00 -1.80 M11.70 -18.90 L9.00 -18.00 L8.10 -16.20 L8.10 -14.40 L9.00 -12.60 L10.80 -11.70 L14.40 -10.80 L17.10 -9.90 L18.90 -8.10 L19.80 -6.30 L19.80 -3.60 L18.90 -1.80 L18.00 -0.90 L15.30 0.00 L11.70 0.00 L9.00 -0.90 L8.10 -1.80 L7.20 -3.60 L7.20 -6.30 L8.10 -8.10 L9.90 -9.90 L12.60 -10.80 L16.20 -11.70 L18.00 -12.60 L18.90 -14.40 L18.90 -16.20 L18.00 -18.00 L15.30 -18.90 L11.70 -18.90" fill="none" stroke="#000" stroke-width="1.75" stroke-linejoin="bevel" stroke-linecap="butt"/>
<path transform="translate(606.30 926.90)" d="M-17.10 -15.30 L-15.30 -16.20 L-12.60 -18.90 L-12.60 0.00 M0.00 -1.80 L-0.90 -0.90 L0.00 0.00 L0.90 -0.90 L0.00 -1.80 M12.60 -18.90 L9.90 -18.00 L8.10 -15.30 L7.20 -10.80 L7.20 -8.10 L8.10 -3.60 L9.90 -0.90 L12.60 0.00 L14.40 0.00 L17.10 -0.90 L18.90 -3.60 L19.80 -8.10 L19.80 -10.80 L18.90 -15.30 L17.10 -18.00 L14.40 -18.90 L12.60 -18.90" fill="none" stroke="#000" stroke-width="1.75" stroke-linejoin="bevel" stroke-linecap="butt"/>
<path transform="translate(707.66 926.90)" d="M-17.10 -15.30 L-15.30 -16.20 L-12.60 -18.90 L-12.60 0.00 M0.00 -1.80 L-0.90 -0.90 L0.00 0.00 L0.90 -0.90 L0.00 -1.80 M8.10 -14.40 L8.10 -15.30 L9.00 -17.10 L9.90 -18.00 L11.70 -18.90 L15.30 -18.90 L17.10 -18.00 L18.00 -17.10 L18.90 -15.30 L18.90 -13.50 L18.00 -11.70 L16.20 -9.00 L7.20 0.00 L19.80 0.00" fill="none" stroke="#000" stroke-width="1.75" stroke-linejoin="bevel" stroke-linecap="butt"/>
<path transform="translate(809.02 926.90)" d="M-17.10 -15.30 L-15.30 -16.20 L-12.60 -18.90 L-12.60 0.00 M0.00 -1.80 L-0.90 -0.90 L0.00 0.00 L0.90 -0.90 L0.00 -1.80 M16.20 -18.90 L7.20 -6.30 L20.70 -6.30 M16.20 -18.90 L16.20 0.00" fill="none" stroke="#000" stroke-width="1.75" stroke-linejoin="bevel" stroke-linecap="butt"/>
<path transform="translate(462.10 962.00)" d="M-52.84 -18.90 L-52.84 -3.60 L-51.95 -0.90 L-50.17 0.00 L-48.40 0.00 M-55.50 -12.60 L-49.28 -12.60 M-43.96 -18.90 L-43.07 -18.00 L-42.18 -18.90 L-43.07 -19.80 L-43.96 -18.90 M-43.07 -12.60 L-43.07 0.00 M-35.96 -12.60 L-35.96 0.00 M-35.96 -9.00 L-33.30 -11.70 L-31.52 -12.60 L-28.86 -12.60 L-27.08 -11.70 L-26.20 -9.00 L-26.20 0.00 M-26.20 -9.00 L-23.53 -11.70 L-21.76 -12.60 L-19.09 -12.60 L-17.32 -11.70 L-16.43 -9.00 L-16.43 0.00 M-10.21 -7.20 L0.44 -7.20 L0.44 -9.00 L-0.44 -10.80 L-1.33 -11.70 L-3.11 -12.60 L-5.77 -12.60 L-7.55 -11.70 L-9.32 -9.90 L-10.21 -7.20 L-10.21 -5.40 L-9.32 -2.70 L-7.55 -0.90 L-5.77 0.00 L-3.11 0.00 L-1.33 -0.90 L0.44 -2.70 M20.87 -22.50 L20.87 6.30 M21.76 -22.50 L21.76 6.30 M20.87 -22.50 L27.08 -22.50 M20.87 6.30 L27.08 6.30 M42.18 -9.90 L41.29 -11.70 L38.63 -12.60 L35.96 -12.60 L33.30 -11.70 L32.41 -9.90 L33.30 -8.10 L35.08 -7.20 L39.52 -6.30 L41.29 -5.40 L42.18 -3.60 L42.18 -2.70 L41.29 -0.90 L38.63 0.00 L35.96 0.00 L33.30 -0.90 L32.41 -2.70 M52.84 -22.50 L52.84 6.30 M53.72 -22.50 L53.72 6.30 M47.51 -22.50 L53.72 -22.50 M47.51 6.30 L53.72 6.30" fill="none" stroke="#000" stroke-width="1.95" stroke-linejoin="bevel" stroke-linecap="butt"/>
<path transform="translate(29.70 225.90) rotate(-90)" d="M-61.04 -18.90 L-61.04 0.00 M-61.04 -18.90 L-49.50 -18.90 M-61.04 -9.90 L-53.94 -9.90 M-61.04 0.00 L-49.50 0.00 M-46.07 2.64 L-39.46 2.64 L-39.46 1.52 L-40.01 0.40 L-40.56 -0.15 L-41.66 -0.71 L-43.32 -0.71 L-44.42 -0.15 L-45.52 0.96 L-46.07 2.64 L-46.07 3.75 L-45.52 5.43 L-44.42 6.54 L-43.32 7.10 L-41.66 7.10 L-40.56 6.54 L-39.46 5.43 M-36.16 -0.71 L-30.10 7.10 M-30.10 -0.71 L-36.16 7.10 M-26.25 -0.71 L-26.25 11.01 M-26.25 0.96 L-25.15 -0.15 L-24.05 -0.71 L-22.40 -0.71 L-21.29 -0.15 L-20.19 0.96 L-19.64 2.64 L-19.64 3.75 L-20.19 5.43 L-21.29 6.54 L-22.40 7.10 L-24.05 7.10 L-25.15 6.54 L-26.25 5.43 M-0.23 -22.50 L-0.23 6.30 M0.66 -22.50 L0.66 6.30 M-0.23 -22.50 L5.99 -22.50 M-0.23 6.30 L5.99 6.30 M17.53 -18.90 L15.75 -18.90 L13.98 -18.00 L13.09 -15.30 L13.09 0.00 M10.43 -12.60 L16.64 -12.60 M26.41 -12.60 L24.63 -11.70 L22.86 -9.90 L21.97 -7.20 L21.97 -5.40 L22.86 -2.70 L24.63 -0.90 L26.41 0.00 L29.07 0.00 L30.85 -0.90 L32.63 -2.70 L33.51 -5.40 L33.51 -7.20 L32.63 -9.90 L30.85 -11.70 L29.07 -12.60 L26.41 -12.60 M38.84 -7.20 L49.50 -7.20 L49.50 -9.00 L48.61 -10.80 L47.72 -11.70 L45.95 -12.60 L43.28 -12.60 L41.51 -11.70 L39.73 -9.90 L38.84 -7.20 L38.84 -5.40 L39.73 -2.70 L41.51 -0.90 L43.28 0.00 L45.95 0.00 L47.72 -0.90 L49.50 -2.70 M60.15 -22.50 L60.15 6.30 M61.04 -22.50 L61.04 6.30 M54.83 -22.50 L61.04 -22.50 M54.83 6.30 L61.04 6.30" fill="none" stroke="#000" stroke-width="1.95" stroke-linejoin="bevel" stroke-linecap="butt"/>
<path transform="translate(27.40 666.70) rotate(-90)" d="M-51.30 -18.90 L-51.30 0.00 M-51.30 -18.90 L-43.31 -18.90 L-40.64 -18.00 L-39.76 -17.10 L-38.87 -15.30 L-38.87 -13.50 L-39.76 -11.70 L-40.64 -10.80 L-43.31 -9.90 L-51.30 -9.90 M-45.08 -9.90 L-38.87 0.00 M-28.50 0.96 L-29.05 -0.15 L-30.70 -0.71 L-32.35 -0.71 L-34.00 -0.15 L-34.55 0.96 L-34.00 2.08 L-32.90 2.64 L-30.15 3.19 L-29.05 3.75 L-28.50 4.87 L-28.50 5.43 L-29.05 6.54 L-30.70 7.10 L-32.35 7.10 L-34.00 6.54 L-34.55 5.43 M-9.08 -22.50 L-9.08 6.30 M-8.20 -22.50 L-8.20 6.30 M-9.08 -22.50 L-2.87 -22.50 M-9.08 6.30 L-2.87 6.30 M13.12 -9.90 L11.34 -11.70 L9.56 -12.60 L6.90 -12.60 L5.12 -11.70 L3.35 -9.90 L2.46 -7.20 L2.46 -5.40 L3.35 -2.70 L5.12 -0.90 L6.90 0.00 L9.56 0.00 L11.34 -0.90 L13.12 -2.70 M19.33 -12.60 L19.33 0.00 M19.33 -9.00 L22.00 -11.70 L23.77 -12.60 L26.44 -12.60 L28.21 -11.70 L29.10 -9.00 L29.10 0.00 M29.10 -9.00 L31.76 -11.70 L33.54 -12.60 L36.20 -12.60 L37.98 -11.70 L38.87 -9.00 L38.87 0.00 M50.41 -22.50 L50.41 6.30 M51.30 -22.50 L51.30 6.30 M45.08 -22.50 L51.30 -22.50 M45.08 6.30 L51.30 6.30" fill="none" stroke="#000" stroke-width="1.95" stroke-linejoin="bevel" stroke-linecap="butt"/>
<path transform="translate(538.60 775.20)" d="M1.91 -20.05 L6.68 0.00 M11.46 -20.05 L6.68 0.00 M11.46 -20.05 L16.23 0.00 M21.01 -20.05 L16.23 0.00 M28.65 -16.23 L30.56 -17.19 L33.42 -20.05 L33.42 0.00 M56.34 -20.05 L46.79 -20.05 L45.84 -11.46 L46.79 -12.41 L49.66 -13.37 L52.52 -13.37 L55.39 -12.41 L57.30 -10.50 L58.25 -7.64 L58.25 -5.73 L57.30 -2.86 L55.39 -0.95 L52.52 0.00 L49.66 0.00 L46.79 -0.95 L45.84 -1.91 L44.88 -3.82 M64.94 -8.59 L82.13 -8.59 M91.68 -16.23 L93.59 -17.19 L96.45 -20.05 L96.45 0.00" fill="none" stroke="#000000" stroke-width="1.75" stroke-linejoin="bevel" stroke-linecap="butt"/>
<line x1="664.10" y1="765.20" x2="763.90" y2="765.20" stroke="#000000" stroke-width="1.75" />
<path transform="translate(538.60 804.50)" d="M1.91 -20.05 L6.68 0.00 M11.46 -20.05 L6.68 0.00 M11.46 -20.05 L16.23 0.00 M21.01 -20.05 L16.23 0.00 M28.65 -16.23 L30.56 -17.19 L33.42 -20.05 L33.42 0.00 M56.34 -20.05 L46.79 -20.05 L45.84 -11.46 L46.79 -12.41 L49.66 -13.37 L52.52 -13.37 L55.39 -12.41 L57.30 -10.50 L58.25 -7.64 L58.25 -5.73 L57.30 -2.86 L55.39 -0.95 L52.52 0.00 L49.66 0.00 L46.79 -0.95 L45.84 -1.91 L44.88 -3.82 M64.94 -8.59 L82.13 -8.59 M89.77 -15.28 L89.77 -16.23 L90.72 -18.14 L91.68 -19.10 L93.59 -20.05 L97.41 -20.05 L99.32 -19.10 L100.27 -18.14 L101.23 -16.23 L101.23 -14.32 L100.27 -12.41 L98.36 -9.55 L88.81 0.00 L102.18 0.00" fill="none" stroke="#ff00aa" stroke-width="1.75" stroke-linejoin="bevel" stroke-linecap="butt"/>
<line x1="664.10" y1="794.50" x2="763.90" y2="794.50" stroke="#ff00aa" stroke-width="1.75" stroke-dasharray="10.9 10.9"/>
<path transform="translate(538.60 833.60)" d="M3.82 -20.05 L3.82 0.00 M3.82 0.00 L15.28 0.00 M21.96 -16.23 L23.88 -17.19 L26.74 -20.05 L26.74 0.00 M49.66 -20.05 L40.11 -20.05 L39.15 -11.46 L40.11 -12.41 L42.97 -13.37 L45.84 -13.37 L48.70 -12.41 L50.61 -10.50 L51.57 -7.64 L51.57 -5.73 L50.61 -2.86 L48.70 -0.95 L45.84 0.00 L42.97 0.00 L40.11 -0.95 L39.15 -1.91 L38.20 -3.82 M58.25 -8.59 L75.44 -8.59 M84.99 -16.23 L86.90 -17.19 L89.77 -20.05 L89.77 0.00" fill="none" stroke="#0000ff" stroke-width="1.75" stroke-linejoin="bevel" stroke-linecap="butt"/>
<line x1="664.10" y1="823.60" x2="763.90" y2="823.60" stroke="#0000ff" stroke-width="1.75" stroke-dasharray="22 10.6"/>
<path transform="translate(538.60 862.70)" d="M3.82 -20.05 L3.82 0.00 M3.82 0.00 L15.28 0.00 M21.96 -16.23 L23.88 -17.19 L26.74 -20.05 L26.74 0.00 M49.66 -20.05 L40.11 -20.05 L39.15 -11.46 L40.11 -12.41 L42.97 -13.37 L45.84 -13.37 L48.70 -12.41 L50.61 -10.50 L51.57 -7.64 L51.57 -5.73 L50.61 -2.86 L48.70 -0.95 L45.84 0.00 L42.97 0.00 L40.11 -0.95 L39.15 -1.91 L38.20 -3.82 M58.25 -8.59 L75.44 -8.59 M83.08 -15.28 L83.08 -16.23 L84.04 -18.14 L84.99 -19.10 L86.90 -20.05 L90.72 -20.05 L92.63 -19.10 L93.59 -18.14 L94.54 -16.23 L94.54 -14.32 L93.59 -12.41 L91.68 -9.55 L82.13 0.00 L95.50 0.00" fill="none" stroke="#00a000" stroke-width="1.75" stroke-linejoin="bevel" stroke-linecap="butt"/>
<line x1="664.10" y1="852.70" x2="763.90" y2="852.70" stroke="#00a000" stroke-width="1.75" stroke-dasharray="10.9 5.3 3 5.3"/>
</svg>
</body></html>
